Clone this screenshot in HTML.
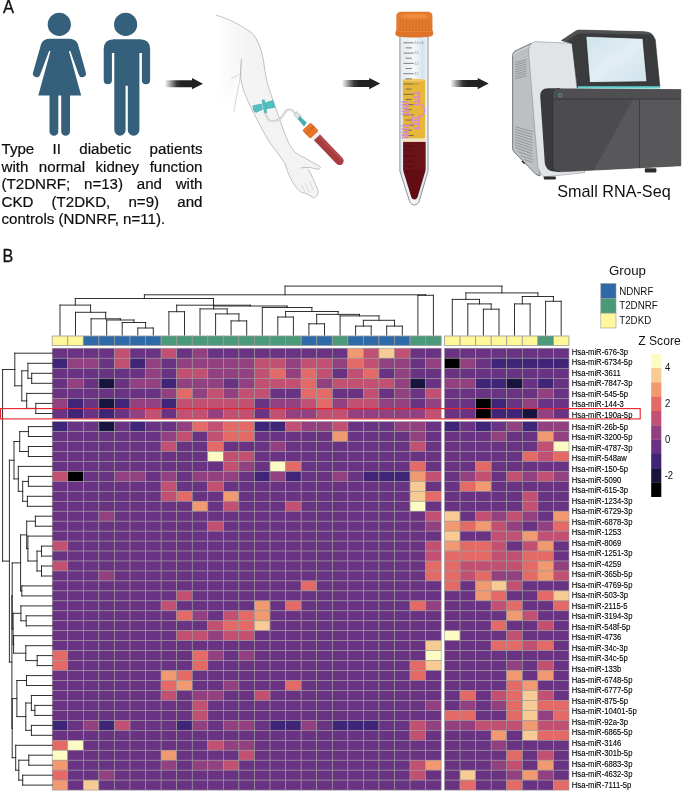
<!DOCTYPE html>
<html lang="en"><head><meta charset="utf-8"><title>Figure</title>
<style>
html,body{margin:0;padding:0;background:#fff;}
body{width:685px;height:802px;overflow:hidden;position:relative;font-family:"Liberation Sans",sans-serif;}
svg{position:absolute;left:0;top:0;display:block;}
.para{position:absolute;left:1.5px;top:140.1px;width:201px;font-size:15.1px;line-height:17.48px;color:#0d0d0d;-webkit-text-stroke:0.2px #0d0d0d;}
.para div{text-align:justify;text-align-last:justify;white-space:nowrap;}
.para div.last{text-align-last:left;}
</style></head><body>
<svg width="685" height="802" viewBox="0 0 685 802">
<defs>
<linearGradient id="ag" x1="0" x2="1" y1="0" y2="0"><stop offset="0" stop-color="#222" stop-opacity="0"/><stop offset="0.32" stop-color="#222" stop-opacity="0.9"/><stop offset="0.45" stop-color="#222" stop-opacity="1"/></linearGradient>
<linearGradient id="armg" gradientUnits="userSpaceOnUse" x1="214" x2="250" y1="0" y2="0"><stop offset="0" stop-color="#ffffff"/><stop offset="1" stop-color="#f3f3f3"/></linearGradient>
<linearGradient id="fadeg" gradientUnits="userSpaceOnUse" x1="0" x2="0" y1="78" y2="110"><stop offset="0" stop-color="#fff" stop-opacity="0"/><stop offset="1" stop-color="#fff" stop-opacity="1"/></linearGradient>
<linearGradient id="scr" x1="0" x2="1" y1="0" y2="1"><stop offset="0" stop-color="#cfe3ec"/><stop offset="0.5" stop-color="#e2eef3"/><stop offset="1" stop-color="#cfe3ec"/></linearGradient>
<linearGradient id="tubeg" x1="0" x2="1" y1="0" y2="0"><stop offset="0" stop-color="#e4e9ed"/><stop offset="0.5" stop-color="#f4f7f9"/><stop offset="0.78" stop-color="#dbe6ee"/><stop offset="1" stop-color="#eef2f5"/></linearGradient>
<path id="arrow" d="M0 -3.5H27.4V-5.7L38.4 0L27.4 5.6V3.5H0Z" fill="url(#ag)"/>
</defs>
<!-- people icons -->
<g fill="#35607c">
<circle cx="59.3" cy="24.4" r="11.6"/>
<path d="M50 38.7H68.5Q75.6 38.7 77.7 43.5L85.8 72.3A3.7 3.7 0 0 1 78.7 74.6L70.3 51H68.9L81.2 95.5H38.3L50.5 51H49.1L40.2 74.6A3.7 3.7 0 0 1 33.1 72.3L41.3 43.5Q43.4 38.7 50 38.7Z"/>
<path d="M49.5 95V131.4a4.4 4.4 0 0 0 8.8 0V95ZM61.2 95V131.4a4.4 4.4 0 0 0 8.8 0V95Z"/>
<circle cx="125.6" cy="24.4" r="11.6"/>
<path d="M113.7 39.3H140.1Q150.1 39.3 150.1 49.3V80.2a4.1 4.1 0 0 1 -8.2 0V53H139.4V130a5.8 5.8 0 0 1 -11.6 0V85.7H125.6V130.1a5.65 5.65 0 0 1 -11.3 0V53H111.9V80.2a4.1 4.1 0 0 1 -8.2 0V49.3Q103.7 39.3 113.7 39.3Z"/>
</g>
<!-- arrows -->
<use href="#arrow" x="164.6" y="83.7"/>
<use href="#arrow" x="341.8" y="83.6"/>
<use href="#arrow" x="450.3" y="83.6"/>
<!-- arm -->
<path d="M215.9 15.2C226 18 238 23 251.4 32.7C258 38.5 262.5 52 264.2 65.4C265.2 73 266.3 79 267.7 84.1C270 92 273 100 275.2 106.6C278 114 282.8 130 288.7 142.8C290.5 146.5 292.5 149.8 295.1 152.2C298 154.5 301 156 303.9 157.4L313.2 162.7C316.5 164.3 320 166 320.5 167.4C320.4 169 318.3 169.4 316.7 169.1C313.8 168.4 311 167.5 308.5 167.4L308.5 169.1L313.2 179L317.9 189.6C318.5 192.5 317.6 195.3 316.1 196.6C315.3 197.6 314.5 197.9 313.8 197.7C312.5 197.2 311 196.3 309.7 195.4C308 194.6 306.5 193.8 305 193.1C303.8 192.8 302.6 192.7 301.5 192.5C299.2 190.8 297 188.5 295.1 186.1C292.8 182.5 290.5 178.5 288.7 174.4C287.4 171 286.2 167.4 285.2 163.9C282.8 160 280 156 277 152.2C274.5 149 272 146 270 142.8C266.5 137.5 263.5 132 260.9 127C256 117.5 250.5 107.5 246.7 98.1C243.8 91.5 241.7 85 240.9 79.4C240.4 72.5 240.8 65 241.6 58.4C240.8 66 239.3 74 236.5 82C234 90 231 100 229 112L213 112L213 15.2Z" fill="url(#armg)" stroke="none"/>
<path d="M212 78H240.9L241.2 82C241.9 86 243.8 91.5 246.7 98.1L253 112V114H212Z" fill="url(#fadeg)"/>
<path d="M241.4 62C241 72 240.5 78 238.5 86.4C237 93 235.6 100 234 111" fill="none" stroke="#dcdcdc" stroke-width="1.3" stroke-linecap="round"/>
<path d="M241 72.6Q237.5 77.3 231.2 78.4" fill="none" stroke="#cfcfcf" stroke-width="0.7" stroke-linecap="round"/>
<path d="M215.9 15.2C226 18 238 23 251.4 32.7C258 38.5 262.5 52 264.2 65.4C265.2 73 266.3 79 267.7 84.1C270 92 273 100 275.2 106.6C278 114 282.8 130 288.7 142.8C290.5 146.5 292.5 149.8 295.1 152.2C298 154.5 301 156 303.9 157.4L313.2 162.7C316.5 164.3 320 166 320.5 167.4C320.4 169 318.3 169.4 316.7 169.1C313.8 168.4 311 167.5 308.5 167.4C305.5 167.2 302.8 167.5 300.4 168M308.5 169.1L313.2 179L317.9 189.6C318.5 192.5 317.6 195.3 316.1 196.6C315.3 197.6 314.5 197.9 313.8 197.7C312.5 197.2 311 196.3 309.7 195.4C308 194.6 306.5 193.8 305 193.1C303.8 192.8 302.6 192.7 301.5 192.5C299.2 190.8 297 188.5 295.1 186.1C292.8 182.5 290.5 178.5 288.7 174.4C287.4 171 286.2 167.4 285.2 163.9C282.8 160 280 156 277 152.2C274.5 149 272 146 270 142.8C266.5 137.5 263.5 132 260.9 127C256 117.5 250.5 107.5 246.7 98.1C243.8 91.5 241.7 85 240.9 79.4C240.4 72.5 240.8 65 241.6 58.4" fill="none" stroke="#a9a9a9" stroke-width="0.7" stroke-linejoin="round"/>
<path d="M309.5 181L313 190M305.5 183L309.5 192.5M301.5 185L305 192" fill="none" stroke="#c9c9c9" stroke-width="0.6"/>
<!-- butterfly needle -->
<path d="M265.4 113.4C266.5 118.5 269.5 121.5 274 121.3C279.5 121 282.5 117 284.7 112.8C286.5 110 289.5 109.2 291.7 109.9L295.8 113.9" fill="none" stroke="#bdbdbd" stroke-width="2"/>
<path d="M265.4 113.4C266.5 118.5 269.5 121.5 274 121.3C279.5 121 282.5 117 284.7 112.8C286.5 110 289.5 109.2 291.7 109.9L295.8 113.9" fill="none" stroke="#f4f4f4" stroke-width="1"/>
<g fill="#52c0c2" stroke="#2f9ea2" stroke-width="0.5" stroke-linejoin="round">
<path d="M252.9 105.8L261.4 104L262.5 109.3L256.1 112.4L253.8 111Z"/>
<path d="M265.4 102.8L273 100.5L274.8 107.5L266 108.7Z"/>
<path d="M262 100.2L264.3 99.7L266.8 112.6L264.5 113.1Z"/>
</g>
<path d="M296.4 111.6L301.8 116.2L299 119.6L293.6 115Z" fill="#d9e4e8" stroke="#9fb0b8" stroke-width="0.5"/>
<path d="M299.6 116.6L306.4 122.4L304 126.2L298.2 119.2Z" fill="#3fb2b4" stroke="#2b8f93" stroke-width="0.4"/>
<!-- blood tube -->
<g transform="translate(310.4 130.6) rotate(46.2)">
<rect x="5" y="-4.2" width="8" height="8.4" fill="#f4f4f4" stroke="#c4c4c4" stroke-width="0.4"/>
<path d="M9.5 -4.2H42a4.2 4.2 0 0 1 0 8.4H9.5Z" fill="#a83d3f"/>
<path d="M9.5 -2.4H42.5" stroke="#b6565a" stroke-width="1.1" fill="none"/>
<rect x="-5.5" y="-5.6" width="11.1" height="11.2" rx="1.3" fill="#e97528" stroke="#cf651f" stroke-width="0.5"/>
<rect x="-2.2" y="-5.6" width="3.4" height="11.2" fill="#dc6c22"/>
</g>
<!-- centrifuge tube -->
<path d="M399.9 36V171L409.3 200.6Q410.8 204.9 414.4 204.9Q418 204.9 419.4 200.6L428 171V36Z" fill="url(#tubeg)" stroke="#808890" stroke-width="0.9" stroke-linejoin="round"/>
<path d="M402.8 80.2C402.8 78.5 425.1 78.5 425.1 80.2V138.7H402.8Z" fill="#e7b73a"/>
<ellipse cx="413.95" cy="80.2" rx="11.15" ry="1.5" fill="#f1cb63"/>
<rect x="402.8" y="138.5" width="22.3" height="3.4" fill="#f3e4c4"/>
<path d="M403.3 141.9H425.4V171L417.8 196.2Q416.8 199.4 414.4 199.4Q412 199.4 411 196.2L403.3 171Z" fill="#620c13"/><path d="M403.3 141.9H425.4V170H403.3Z" fill="#6b1219"/>
<rect x="421.2" y="40" width="3.6" height="38" fill="#d5e3ee" opacity="0.8"/>
<g stroke="#4a4f55" stroke-width="0.7" fill="none">
<path d="M403.5 42.8H413.8M403.5 53.1H413.8M403.5 63.4H413.8M403.5 73.7H413.8M403.5 84H413.8M403.5 94.3H413.8M403.5 104.6H413.8M403.5 114.9H413.8M403.5 125.2H413.8M403.5 135.5H413.8"/>
<path d="M405.5 47.9H411.8M405.5 58.2H411.8M405.5 68.5H411.8M405.5 78.8H411.8M405.5 89.1H411.8M405.5 99.4H411.8M405.5 109.7H411.8M405.5 120H411.8M405.5 130.3H411.8"/>
</g>
<g stroke="#3b0a10" stroke-width="0.7" fill="none" opacity="0.8">
<path d="M403.5 145.8H413.8M403.5 156.1H413.8M403.5 166.4H413.8M405.5 150.9H411.8M405.5 161.2H411.8M405.5 171.5H411.8"/>
</g>
<g font-family="'Liberation Sans', sans-serif" font-size="3.6" fill="#8a9299">
<text x="414.6" y="44">14 mL</text><text x="414.6" y="54.3">13</text><text x="414.6" y="64.6">12</text><text x="414.6" y="74.9">11</text><text x="414.6" y="85.2" fill="#a8842a">10</text>
</g>
<!-- RNA motif -->
<g stroke="#d48ad6" stroke-width="1.6" fill="none" stroke-linecap="butt" stroke-linejoin="round">
<path d="M419.1 91.7V104.3C426.4 104.3 426.4 116.4 419.1 116.4V129.6"/>
<path d="M413.6 93H419.1M413.6 97.4H419.1M413.6 101.5H419.1M413.6 104.7H419.1M413.6 117.7H419.1M413.6 120.5H419.1M413.6 124.1H419.1M413.6 128.2H419.1"/>
<path d="M407.6 101.2V114C414 114 414 125.3 407.6 125.3V138.2"/>
<path d="M401.5 101.9H407.6M401.5 105.1H407.6M401.5 108.3H407.6M401.5 111.2H407.6M401.5 114H407.6M401.5 125.7H407.6M401.5 129H407.6M401.5 132.2H407.6M401.5 135.1H407.6M401.5 137.5H407.6"/>
</g>
<!-- tube cap -->
<path d="M396.6 16Q396.6 11.9 401.5 11.9H427.3Q432.2 11.9 432.2 16V31.5H396.6Z" fill="#e47b2d" stroke="#cf6a22" stroke-width="0.4"/>
<ellipse cx="414.5" cy="16.3" rx="13.3" ry="2.5" fill="#ee8b3c"/>
<path d="M400.2 19.5V30M403.4 20V30M406.6 20.3V30M409.8 20.5V30M413 20.6V30M416.2 20.6V30M419.4 20.5V30M422.6 20.3V30M425.8 20V30M429 19.5V30" stroke="#d06a22" stroke-width="0.8" fill="none"/>
<path d="M395.7 32.2Q395.7 30.4 397.5 30.4H431.1Q432.9 30.4 432.9 32.2V34.6Q432.9 37.3 414.3 37.3Q395.7 37.3 395.7 34.6Z" fill="#e07426" stroke="#cc6620" stroke-width="0.4"/>
<path d="M397 31.3H431.6" stroke="#ef9248" stroke-width="0.6" fill="none"/>
<!-- sequencer -->
<g stroke-linejoin="round">
<path d="M512.6 55.5Q512.6 52.5 515 51L531 43.4L541 45L540 176L536 174.5L514.2 152Q512.6 150.5 512.6 148.5Z" fill="#bcc0c3" stroke="#4e5256" stroke-width="0.7"/>
<path d="M514 56.3Q514 53.8 516 52.6L529 46.4" fill="none" stroke="#e4e7e9" stroke-width="0.6"/>
<path d="M534.9 41.6L572.5 43.3L584.8 172.6L545.5 176.8Q542.5 177 541.2 174.6L537.9 167.7L528.6 52Q528.3 44 534.9 41.6Z" fill="#e1e4e6" stroke="#7e8387" stroke-width="0.5"/>
<g stroke="#6f7478" stroke-width="0.55" fill="none">
<path d="M515.3 62.6L526.5 59.6M515.3 64.9L526.5 61.9M515.3 67.2L526.5 64.2M515.3 69.5L526.5 66.5M515.3 71.8L526.5 68.8M515.3 74.1L526.5 71.1M515.3 76.4L526.5 73.4M515.3 78.7L526.5 75.7"/>
<path d="M515.3 126.8L532.5 131.5M515.3 129.4L532.5 134.3M515.3 132L532.5 137.1M515.3 134.6L532.5 139.9M515.3 137.2L532.5 142.7M515.3 139.8L532.5 145.5M515.3 142.4L532.5 148.3M515.3 145L532.5 151.1M515.3 147.6L532.5 153.9M517.5 151.5L532.5 156.7M520.5 155.8L532.8 159.5M524 159.6L533 162.3"/>
</g>
<path d="M561.5 40.5L575.5 31.2Q577.3 30 579.5 30L644 31.7Q651.5 32 653.6 36.5L655.3 39.7L660 87.5H577.3L572 43.6Z" fill="#3a3b3d" stroke="#2a2b2d" stroke-width="0.5"/>
<path d="M561.5 40.5L575.5 31.2Q577.3 30 579.5 30L644 31.7Q650 32 652 34.5L582 33.2Q579 33.2 577 34.6L566 41.8Z" fill="#505254"/>
<path d="M585.9 36.3L642.9 38.4L646.9 81.7L589.6 82.5Z" fill="url(#scr)" stroke="#1f2022" stroke-width="0.7"/>
<path d="M578 86.2H660V88.4H578Z" fill="#62d3d3"/>
<path d="M540.2 96Q540.2 88.5 548 88.3H560V172L553.5 171.6Q545.8 170.8 544.8 163Z" fill="#3a3a3c"/>
<path d="M552.9 94.5Q552.9 88.8 558.5 88.8L680.8 89.6V165.8L560.5 171.8Q552.9 172 552.9 164.5Z" fill="#4c4c4e" stroke="#2c2c2e" stroke-width="0.5"/>
<path d="M594 170L633.1 99.2H680.6V165.7Z" fill="#58585a"/>
<path d="M553.2 94.5Q553.2 89 558.5 89L680.6 89.8V99H553.2Z" fill="#4f4f51"/>
<path d="M553 99H680.6M639.5 99V167.8" stroke="#2e2e30" stroke-width="0.6" fill="none"/>
<circle cx="560.2" cy="95.2" r="1.7" fill="none" stroke="#4fc4c4" stroke-width="0.6"/>
<rect x="543.8" y="176.4" width="12" height="3.1" rx="0.8" fill="#2b2c2e"/>
<rect x="644.8" y="168.2" width="11.6" height="4.2" rx="0.8" fill="#2b2c2e"/>
<path d="M522 160.4L525 163L524.2 164.2L521.4 161.6Z" fill="#2b2c2e"/>
</g>

<g stroke="#9a9a9a" stroke-width="0.6">
<rect x="52.20" y="348.20" width="15.56" height="10.04" fill="#6a3282"/>
<rect x="67.76" y="348.20" width="15.56" height="10.04" fill="#6a3282"/>
<rect x="83.32" y="348.20" width="15.56" height="10.04" fill="#6a3282"/>
<rect x="98.88" y="348.20" width="15.56" height="10.04" fill="#6a3282"/>
<rect x="114.44" y="348.20" width="15.56" height="10.04" fill="#c15072"/>
<rect x="130.00" y="348.20" width="15.56" height="10.04" fill="#6a3282"/>
<rect x="145.56" y="348.20" width="15.56" height="10.04" fill="#6a3282"/>
<rect x="161.12" y="348.20" width="15.56" height="10.04" fill="#c15072"/>
<rect x="176.68" y="348.20" width="15.56" height="10.04" fill="#6a3282"/>
<rect x="192.24" y="348.20" width="15.56" height="10.04" fill="#92407f"/>
<rect x="207.80" y="348.20" width="15.56" height="10.04" fill="#6a3282"/>
<rect x="223.36" y="348.20" width="15.56" height="10.04" fill="#6a3282"/>
<rect x="238.92" y="348.20" width="15.56" height="10.04" fill="#6a3282"/>
<rect x="254.48" y="348.20" width="15.56" height="10.04" fill="#6a3282"/>
<rect x="270.04" y="348.20" width="15.56" height="10.04" fill="#6a3282"/>
<rect x="285.60" y="348.20" width="15.56" height="10.04" fill="#6a3282"/>
<rect x="301.16" y="348.20" width="15.56" height="10.04" fill="#6a3282"/>
<rect x="316.72" y="348.20" width="15.56" height="10.04" fill="#6a3282"/>
<rect x="332.28" y="348.20" width="15.56" height="10.04" fill="#6a3282"/>
<rect x="347.84" y="348.20" width="15.56" height="10.04" fill="#f19970"/>
<rect x="363.40" y="348.20" width="15.56" height="10.04" fill="#c15072"/>
<rect x="378.96" y="348.20" width="15.56" height="10.04" fill="#f8ca94"/>
<rect x="394.52" y="348.20" width="15.56" height="10.04" fill="#c15072"/>
<rect x="410.08" y="348.20" width="15.56" height="10.04" fill="#6a3282"/>
<rect x="425.64" y="348.20" width="15.56" height="10.04" fill="#6a3282"/>
<rect x="444.50" y="348.20" width="15.56" height="10.04" fill="#6a3282"/>
<rect x="460.06" y="348.20" width="15.56" height="10.04" fill="#6a3282"/>
<rect x="475.62" y="348.20" width="15.56" height="10.04" fill="#6a3282"/>
<rect x="491.18" y="348.20" width="15.56" height="10.04" fill="#6a3282"/>
<rect x="506.74" y="348.20" width="15.56" height="10.04" fill="#6a3282"/>
<rect x="522.30" y="348.20" width="15.56" height="10.04" fill="#6a3282"/>
<rect x="537.86" y="348.20" width="15.56" height="10.04" fill="#6a3282"/>
<rect x="553.42" y="348.20" width="15.56" height="10.04" fill="#6a3282"/>
<rect x="52.20" y="358.24" width="15.56" height="10.04" fill="#402478"/>
<rect x="67.76" y="358.24" width="15.56" height="10.04" fill="#92407f"/>
<rect x="83.32" y="358.24" width="15.56" height="10.04" fill="#92407f"/>
<rect x="98.88" y="358.24" width="15.56" height="10.04" fill="#6a3282"/>
<rect x="114.44" y="358.24" width="15.56" height="10.04" fill="#c15072"/>
<rect x="130.00" y="358.24" width="15.56" height="10.04" fill="#402478"/>
<rect x="145.56" y="358.24" width="15.56" height="10.04" fill="#92407f"/>
<rect x="161.12" y="358.24" width="15.56" height="10.04" fill="#6a3282"/>
<rect x="176.68" y="358.24" width="15.56" height="10.04" fill="#92407f"/>
<rect x="192.24" y="358.24" width="15.56" height="10.04" fill="#92407f"/>
<rect x="207.80" y="358.24" width="15.56" height="10.04" fill="#92407f"/>
<rect x="223.36" y="358.24" width="15.56" height="10.04" fill="#92407f"/>
<rect x="238.92" y="358.24" width="15.56" height="10.04" fill="#92407f"/>
<rect x="254.48" y="358.24" width="15.56" height="10.04" fill="#c15072"/>
<rect x="270.04" y="358.24" width="15.56" height="10.04" fill="#c15072"/>
<rect x="285.60" y="358.24" width="15.56" height="10.04" fill="#92407f"/>
<rect x="301.16" y="358.24" width="15.56" height="10.04" fill="#c15072"/>
<rect x="316.72" y="358.24" width="15.56" height="10.04" fill="#c15072"/>
<rect x="332.28" y="358.24" width="15.56" height="10.04" fill="#92407f"/>
<rect x="347.84" y="358.24" width="15.56" height="10.04" fill="#e46a67"/>
<rect x="363.40" y="358.24" width="15.56" height="10.04" fill="#c15072"/>
<rect x="378.96" y="358.24" width="15.56" height="10.04" fill="#92407f"/>
<rect x="394.52" y="358.24" width="15.56" height="10.04" fill="#92407f"/>
<rect x="410.08" y="358.24" width="15.56" height="10.04" fill="#6a3282"/>
<rect x="425.64" y="358.24" width="15.56" height="10.04" fill="#92407f"/>
<rect x="444.50" y="358.24" width="15.56" height="10.04" fill="#000003"/>
<rect x="460.06" y="358.24" width="15.56" height="10.04" fill="#92407f"/>
<rect x="475.62" y="358.24" width="15.56" height="10.04" fill="#6a3282"/>
<rect x="491.18" y="358.24" width="15.56" height="10.04" fill="#402478"/>
<rect x="506.74" y="358.24" width="15.56" height="10.04" fill="#402478"/>
<rect x="522.30" y="358.24" width="15.56" height="10.04" fill="#402478"/>
<rect x="537.86" y="358.24" width="15.56" height="10.04" fill="#402478"/>
<rect x="553.42" y="358.24" width="15.56" height="10.04" fill="#402478"/>
<rect x="52.20" y="368.28" width="15.56" height="10.04" fill="#6a3282"/>
<rect x="67.76" y="368.28" width="15.56" height="10.04" fill="#6a3282"/>
<rect x="83.32" y="368.28" width="15.56" height="10.04" fill="#6a3282"/>
<rect x="98.88" y="368.28" width="15.56" height="10.04" fill="#6a3282"/>
<rect x="114.44" y="368.28" width="15.56" height="10.04" fill="#6a3282"/>
<rect x="130.00" y="368.28" width="15.56" height="10.04" fill="#6a3282"/>
<rect x="145.56" y="368.28" width="15.56" height="10.04" fill="#92407f"/>
<rect x="161.12" y="368.28" width="15.56" height="10.04" fill="#6a3282"/>
<rect x="176.68" y="368.28" width="15.56" height="10.04" fill="#c15072"/>
<rect x="192.24" y="368.28" width="15.56" height="10.04" fill="#c15072"/>
<rect x="207.80" y="368.28" width="15.56" height="10.04" fill="#92407f"/>
<rect x="223.36" y="368.28" width="15.56" height="10.04" fill="#92407f"/>
<rect x="238.92" y="368.28" width="15.56" height="10.04" fill="#92407f"/>
<rect x="254.48" y="368.28" width="15.56" height="10.04" fill="#c15072"/>
<rect x="270.04" y="368.28" width="15.56" height="10.04" fill="#e46a67"/>
<rect x="285.60" y="368.28" width="15.56" height="10.04" fill="#92407f"/>
<rect x="301.16" y="368.28" width="15.56" height="10.04" fill="#e46a67"/>
<rect x="316.72" y="368.28" width="15.56" height="10.04" fill="#c15072"/>
<rect x="332.28" y="368.28" width="15.56" height="10.04" fill="#6a3282"/>
<rect x="347.84" y="368.28" width="15.56" height="10.04" fill="#c15072"/>
<rect x="363.40" y="368.28" width="15.56" height="10.04" fill="#e46a67"/>
<rect x="378.96" y="368.28" width="15.56" height="10.04" fill="#6a3282"/>
<rect x="394.52" y="368.28" width="15.56" height="10.04" fill="#92407f"/>
<rect x="410.08" y="368.28" width="15.56" height="10.04" fill="#6a3282"/>
<rect x="425.64" y="368.28" width="15.56" height="10.04" fill="#6a3282"/>
<rect x="444.50" y="368.28" width="15.56" height="10.04" fill="#6a3282"/>
<rect x="460.06" y="368.28" width="15.56" height="10.04" fill="#6a3282"/>
<rect x="475.62" y="368.28" width="15.56" height="10.04" fill="#6a3282"/>
<rect x="491.18" y="368.28" width="15.56" height="10.04" fill="#6a3282"/>
<rect x="506.74" y="368.28" width="15.56" height="10.04" fill="#6a3282"/>
<rect x="522.30" y="368.28" width="15.56" height="10.04" fill="#6a3282"/>
<rect x="537.86" y="368.28" width="15.56" height="10.04" fill="#6a3282"/>
<rect x="553.42" y="368.28" width="15.56" height="10.04" fill="#6a3282"/>
<rect x="52.20" y="378.32" width="15.56" height="10.04" fill="#6a3282"/>
<rect x="67.76" y="378.32" width="15.56" height="10.04" fill="#92407f"/>
<rect x="83.32" y="378.32" width="15.56" height="10.04" fill="#6a3282"/>
<rect x="98.88" y="378.32" width="15.56" height="10.04" fill="#18143e"/>
<rect x="114.44" y="378.32" width="15.56" height="10.04" fill="#6a3282"/>
<rect x="130.00" y="378.32" width="15.56" height="10.04" fill="#92407f"/>
<rect x="145.56" y="378.32" width="15.56" height="10.04" fill="#92407f"/>
<rect x="161.12" y="378.32" width="15.56" height="10.04" fill="#402478"/>
<rect x="176.68" y="378.32" width="15.56" height="10.04" fill="#92407f"/>
<rect x="192.24" y="378.32" width="15.56" height="10.04" fill="#92407f"/>
<rect x="207.80" y="378.32" width="15.56" height="10.04" fill="#92407f"/>
<rect x="223.36" y="378.32" width="15.56" height="10.04" fill="#6a3282"/>
<rect x="238.92" y="378.32" width="15.56" height="10.04" fill="#92407f"/>
<rect x="254.48" y="378.32" width="15.56" height="10.04" fill="#c15072"/>
<rect x="270.04" y="378.32" width="15.56" height="10.04" fill="#c15072"/>
<rect x="285.60" y="378.32" width="15.56" height="10.04" fill="#c15072"/>
<rect x="301.16" y="378.32" width="15.56" height="10.04" fill="#e46a67"/>
<rect x="316.72" y="378.32" width="15.56" height="10.04" fill="#92407f"/>
<rect x="332.28" y="378.32" width="15.56" height="10.04" fill="#c15072"/>
<rect x="347.84" y="378.32" width="15.56" height="10.04" fill="#c15072"/>
<rect x="363.40" y="378.32" width="15.56" height="10.04" fill="#c15072"/>
<rect x="378.96" y="378.32" width="15.56" height="10.04" fill="#c15072"/>
<rect x="394.52" y="378.32" width="15.56" height="10.04" fill="#92407f"/>
<rect x="410.08" y="378.32" width="15.56" height="10.04" fill="#18143e"/>
<rect x="425.64" y="378.32" width="15.56" height="10.04" fill="#6a3282"/>
<rect x="444.50" y="378.32" width="15.56" height="10.04" fill="#92407f"/>
<rect x="460.06" y="378.32" width="15.56" height="10.04" fill="#92407f"/>
<rect x="475.62" y="378.32" width="15.56" height="10.04" fill="#402478"/>
<rect x="491.18" y="378.32" width="15.56" height="10.04" fill="#402478"/>
<rect x="506.74" y="378.32" width="15.56" height="10.04" fill="#18143e"/>
<rect x="522.30" y="378.32" width="15.56" height="10.04" fill="#6a3282"/>
<rect x="537.86" y="378.32" width="15.56" height="10.04" fill="#402478"/>
<rect x="553.42" y="378.32" width="15.56" height="10.04" fill="#6a3282"/>
<rect x="52.20" y="388.36" width="15.56" height="10.04" fill="#6a3282"/>
<rect x="67.76" y="388.36" width="15.56" height="10.04" fill="#6a3282"/>
<rect x="83.32" y="388.36" width="15.56" height="10.04" fill="#6a3282"/>
<rect x="98.88" y="388.36" width="15.56" height="10.04" fill="#6a3282"/>
<rect x="114.44" y="388.36" width="15.56" height="10.04" fill="#6a3282"/>
<rect x="130.00" y="388.36" width="15.56" height="10.04" fill="#6a3282"/>
<rect x="145.56" y="388.36" width="15.56" height="10.04" fill="#6a3282"/>
<rect x="161.12" y="388.36" width="15.56" height="10.04" fill="#92407f"/>
<rect x="176.68" y="388.36" width="15.56" height="10.04" fill="#e46a67"/>
<rect x="192.24" y="388.36" width="15.56" height="10.04" fill="#92407f"/>
<rect x="207.80" y="388.36" width="15.56" height="10.04" fill="#c15072"/>
<rect x="223.36" y="388.36" width="15.56" height="10.04" fill="#92407f"/>
<rect x="238.92" y="388.36" width="15.56" height="10.04" fill="#c15072"/>
<rect x="254.48" y="388.36" width="15.56" height="10.04" fill="#c15072"/>
<rect x="270.04" y="388.36" width="15.56" height="10.04" fill="#6a3282"/>
<rect x="285.60" y="388.36" width="15.56" height="10.04" fill="#6a3282"/>
<rect x="301.16" y="388.36" width="15.56" height="10.04" fill="#e46a67"/>
<rect x="316.72" y="388.36" width="15.56" height="10.04" fill="#e46a67"/>
<rect x="332.28" y="388.36" width="15.56" height="10.04" fill="#6a3282"/>
<rect x="347.84" y="388.36" width="15.56" height="10.04" fill="#6a3282"/>
<rect x="363.40" y="388.36" width="15.56" height="10.04" fill="#c15072"/>
<rect x="378.96" y="388.36" width="15.56" height="10.04" fill="#6a3282"/>
<rect x="394.52" y="388.36" width="15.56" height="10.04" fill="#92407f"/>
<rect x="410.08" y="388.36" width="15.56" height="10.04" fill="#6a3282"/>
<rect x="425.64" y="388.36" width="15.56" height="10.04" fill="#c15072"/>
<rect x="444.50" y="388.36" width="15.56" height="10.04" fill="#6a3282"/>
<rect x="460.06" y="388.36" width="15.56" height="10.04" fill="#6a3282"/>
<rect x="475.62" y="388.36" width="15.56" height="10.04" fill="#6a3282"/>
<rect x="491.18" y="388.36" width="15.56" height="10.04" fill="#6a3282"/>
<rect x="506.74" y="388.36" width="15.56" height="10.04" fill="#6a3282"/>
<rect x="522.30" y="388.36" width="15.56" height="10.04" fill="#6a3282"/>
<rect x="537.86" y="388.36" width="15.56" height="10.04" fill="#92407f"/>
<rect x="553.42" y="388.36" width="15.56" height="10.04" fill="#6a3282"/>
<rect x="52.20" y="398.40" width="15.56" height="10.04" fill="#92407f"/>
<rect x="67.76" y="398.40" width="15.56" height="10.04" fill="#402478"/>
<rect x="83.32" y="398.40" width="15.56" height="10.04" fill="#6a3282"/>
<rect x="98.88" y="398.40" width="15.56" height="10.04" fill="#18143e"/>
<rect x="114.44" y="398.40" width="15.56" height="10.04" fill="#402478"/>
<rect x="130.00" y="398.40" width="15.56" height="10.04" fill="#92407f"/>
<rect x="145.56" y="398.40" width="15.56" height="10.04" fill="#92407f"/>
<rect x="161.12" y="398.40" width="15.56" height="10.04" fill="#402478"/>
<rect x="176.68" y="398.40" width="15.56" height="10.04" fill="#c15072"/>
<rect x="192.24" y="398.40" width="15.56" height="10.04" fill="#c15072"/>
<rect x="207.80" y="398.40" width="15.56" height="10.04" fill="#c15072"/>
<rect x="223.36" y="398.40" width="15.56" height="10.04" fill="#c15072"/>
<rect x="238.92" y="398.40" width="15.56" height="10.04" fill="#c15072"/>
<rect x="254.48" y="398.40" width="15.56" height="10.04" fill="#6a3282"/>
<rect x="270.04" y="398.40" width="15.56" height="10.04" fill="#92407f"/>
<rect x="285.60" y="398.40" width="15.56" height="10.04" fill="#92407f"/>
<rect x="301.16" y="398.40" width="15.56" height="10.04" fill="#c15072"/>
<rect x="316.72" y="398.40" width="15.56" height="10.04" fill="#e46a67"/>
<rect x="332.28" y="398.40" width="15.56" height="10.04" fill="#92407f"/>
<rect x="347.84" y="398.40" width="15.56" height="10.04" fill="#c15072"/>
<rect x="363.40" y="398.40" width="15.56" height="10.04" fill="#c15072"/>
<rect x="378.96" y="398.40" width="15.56" height="10.04" fill="#92407f"/>
<rect x="394.52" y="398.40" width="15.56" height="10.04" fill="#92407f"/>
<rect x="410.08" y="398.40" width="15.56" height="10.04" fill="#6a3282"/>
<rect x="425.64" y="398.40" width="15.56" height="10.04" fill="#92407f"/>
<rect x="444.50" y="398.40" width="15.56" height="10.04" fill="#6a3282"/>
<rect x="460.06" y="398.40" width="15.56" height="10.04" fill="#6a3282"/>
<rect x="475.62" y="398.40" width="15.56" height="10.04" fill="#000003"/>
<rect x="491.18" y="398.40" width="15.56" height="10.04" fill="#402478"/>
<rect x="506.74" y="398.40" width="15.56" height="10.04" fill="#6a3282"/>
<rect x="522.30" y="398.40" width="15.56" height="10.04" fill="#92407f"/>
<rect x="537.86" y="398.40" width="15.56" height="10.04" fill="#6a3282"/>
<rect x="553.42" y="398.40" width="15.56" height="10.04" fill="#6a3282"/>
<rect x="52.20" y="408.44" width="15.56" height="10.04" fill="#6a3282"/>
<rect x="67.76" y="408.44" width="15.56" height="10.04" fill="#402478"/>
<rect x="83.32" y="408.44" width="15.56" height="10.04" fill="#6a3282"/>
<rect x="98.88" y="408.44" width="15.56" height="10.04" fill="#402478"/>
<rect x="114.44" y="408.44" width="15.56" height="10.04" fill="#6a3282"/>
<rect x="130.00" y="408.44" width="15.56" height="10.04" fill="#92407f"/>
<rect x="145.56" y="408.44" width="15.56" height="10.04" fill="#c15072"/>
<rect x="161.12" y="408.44" width="15.56" height="10.04" fill="#6a3282"/>
<rect x="176.68" y="408.44" width="15.56" height="10.04" fill="#c15072"/>
<rect x="192.24" y="408.44" width="15.56" height="10.04" fill="#c15072"/>
<rect x="207.80" y="408.44" width="15.56" height="10.04" fill="#92407f"/>
<rect x="223.36" y="408.44" width="15.56" height="10.04" fill="#c15072"/>
<rect x="238.92" y="408.44" width="15.56" height="10.04" fill="#c15072"/>
<rect x="254.48" y="408.44" width="15.56" height="10.04" fill="#6a3282"/>
<rect x="270.04" y="408.44" width="15.56" height="10.04" fill="#c15072"/>
<rect x="285.60" y="408.44" width="15.56" height="10.04" fill="#92407f"/>
<rect x="301.16" y="408.44" width="15.56" height="10.04" fill="#92407f"/>
<rect x="316.72" y="408.44" width="15.56" height="10.04" fill="#c15072"/>
<rect x="332.28" y="408.44" width="15.56" height="10.04" fill="#c15072"/>
<rect x="347.84" y="408.44" width="15.56" height="10.04" fill="#92407f"/>
<rect x="363.40" y="408.44" width="15.56" height="10.04" fill="#92407f"/>
<rect x="378.96" y="408.44" width="15.56" height="10.04" fill="#92407f"/>
<rect x="394.52" y="408.44" width="15.56" height="10.04" fill="#92407f"/>
<rect x="410.08" y="408.44" width="15.56" height="10.04" fill="#92407f"/>
<rect x="425.64" y="408.44" width="15.56" height="10.04" fill="#c15072"/>
<rect x="444.50" y="408.44" width="15.56" height="10.04" fill="#6a3282"/>
<rect x="460.06" y="408.44" width="15.56" height="10.04" fill="#6a3282"/>
<rect x="475.62" y="408.44" width="15.56" height="10.04" fill="#000003"/>
<rect x="491.18" y="408.44" width="15.56" height="10.04" fill="#402478"/>
<rect x="506.74" y="408.44" width="15.56" height="10.04" fill="#402478"/>
<rect x="522.30" y="408.44" width="15.56" height="10.04" fill="#18143e"/>
<rect x="537.86" y="408.44" width="15.56" height="10.04" fill="#92407f"/>
<rect x="553.42" y="408.44" width="15.56" height="10.04" fill="#6a3282"/>
<rect x="52.20" y="421.60" width="15.56" height="9.96" fill="#402478"/>
<rect x="67.76" y="421.60" width="15.56" height="9.96" fill="#6a3282"/>
<rect x="83.32" y="421.60" width="15.56" height="9.96" fill="#6a3282"/>
<rect x="98.88" y="421.60" width="15.56" height="9.96" fill="#18143e"/>
<rect x="114.44" y="421.60" width="15.56" height="9.96" fill="#6a3282"/>
<rect x="130.00" y="421.60" width="15.56" height="9.96" fill="#402478"/>
<rect x="145.56" y="421.60" width="15.56" height="9.96" fill="#6a3282"/>
<rect x="161.12" y="421.60" width="15.56" height="9.96" fill="#6a3282"/>
<rect x="176.68" y="421.60" width="15.56" height="9.96" fill="#92407f"/>
<rect x="192.24" y="421.60" width="15.56" height="9.96" fill="#e46a67"/>
<rect x="207.80" y="421.60" width="15.56" height="9.96" fill="#c15072"/>
<rect x="223.36" y="421.60" width="15.56" height="9.96" fill="#e46a67"/>
<rect x="238.92" y="421.60" width="15.56" height="9.96" fill="#e46a67"/>
<rect x="254.48" y="421.60" width="15.56" height="9.96" fill="#402478"/>
<rect x="270.04" y="421.60" width="15.56" height="9.96" fill="#402478"/>
<rect x="285.60" y="421.60" width="15.56" height="9.96" fill="#c15072"/>
<rect x="301.16" y="421.60" width="15.56" height="9.96" fill="#92407f"/>
<rect x="316.72" y="421.60" width="15.56" height="9.96" fill="#92407f"/>
<rect x="332.28" y="421.60" width="15.56" height="9.96" fill="#c15072"/>
<rect x="347.84" y="421.60" width="15.56" height="9.96" fill="#6a3282"/>
<rect x="363.40" y="421.60" width="15.56" height="9.96" fill="#6a3282"/>
<rect x="378.96" y="421.60" width="15.56" height="9.96" fill="#6a3282"/>
<rect x="394.52" y="421.60" width="15.56" height="9.96" fill="#92407f"/>
<rect x="410.08" y="421.60" width="15.56" height="9.96" fill="#92407f"/>
<rect x="425.64" y="421.60" width="15.56" height="9.96" fill="#6a3282"/>
<rect x="444.50" y="421.60" width="15.56" height="9.96" fill="#402478"/>
<rect x="460.06" y="421.60" width="15.56" height="9.96" fill="#6a3282"/>
<rect x="475.62" y="421.60" width="15.56" height="9.96" fill="#402478"/>
<rect x="491.18" y="421.60" width="15.56" height="9.96" fill="#6a3282"/>
<rect x="506.74" y="421.60" width="15.56" height="9.96" fill="#92407f"/>
<rect x="522.30" y="421.60" width="15.56" height="9.96" fill="#402478"/>
<rect x="537.86" y="421.60" width="15.56" height="9.96" fill="#92407f"/>
<rect x="553.42" y="421.60" width="15.56" height="9.96" fill="#92407f"/>
<rect x="52.20" y="431.56" width="15.56" height="9.96" fill="#6a3282"/>
<rect x="67.76" y="431.56" width="15.56" height="9.96" fill="#6a3282"/>
<rect x="83.32" y="431.56" width="15.56" height="9.96" fill="#6a3282"/>
<rect x="98.88" y="431.56" width="15.56" height="9.96" fill="#6a3282"/>
<rect x="114.44" y="431.56" width="15.56" height="9.96" fill="#6a3282"/>
<rect x="130.00" y="431.56" width="15.56" height="9.96" fill="#6a3282"/>
<rect x="145.56" y="431.56" width="15.56" height="9.96" fill="#6a3282"/>
<rect x="161.12" y="431.56" width="15.56" height="9.96" fill="#92407f"/>
<rect x="176.68" y="431.56" width="15.56" height="9.96" fill="#c15072"/>
<rect x="192.24" y="431.56" width="15.56" height="9.96" fill="#6a3282"/>
<rect x="207.80" y="431.56" width="15.56" height="9.96" fill="#c15072"/>
<rect x="223.36" y="431.56" width="15.56" height="9.96" fill="#e46a67"/>
<rect x="238.92" y="431.56" width="15.56" height="9.96" fill="#e46a67"/>
<rect x="254.48" y="431.56" width="15.56" height="9.96" fill="#6a3282"/>
<rect x="270.04" y="431.56" width="15.56" height="9.96" fill="#6a3282"/>
<rect x="285.60" y="431.56" width="15.56" height="9.96" fill="#6a3282"/>
<rect x="301.16" y="431.56" width="15.56" height="9.96" fill="#6a3282"/>
<rect x="316.72" y="431.56" width="15.56" height="9.96" fill="#6a3282"/>
<rect x="332.28" y="431.56" width="15.56" height="9.96" fill="#f19970"/>
<rect x="347.84" y="431.56" width="15.56" height="9.96" fill="#6a3282"/>
<rect x="363.40" y="431.56" width="15.56" height="9.96" fill="#6a3282"/>
<rect x="378.96" y="431.56" width="15.56" height="9.96" fill="#6a3282"/>
<rect x="394.52" y="431.56" width="15.56" height="9.96" fill="#6a3282"/>
<rect x="410.08" y="431.56" width="15.56" height="9.96" fill="#92407f"/>
<rect x="425.64" y="431.56" width="15.56" height="9.96" fill="#6a3282"/>
<rect x="444.50" y="431.56" width="15.56" height="9.96" fill="#6a3282"/>
<rect x="460.06" y="431.56" width="15.56" height="9.96" fill="#6a3282"/>
<rect x="475.62" y="431.56" width="15.56" height="9.96" fill="#6a3282"/>
<rect x="491.18" y="431.56" width="15.56" height="9.96" fill="#92407f"/>
<rect x="506.74" y="431.56" width="15.56" height="9.96" fill="#6a3282"/>
<rect x="522.30" y="431.56" width="15.56" height="9.96" fill="#6a3282"/>
<rect x="537.86" y="431.56" width="15.56" height="9.96" fill="#f19970"/>
<rect x="553.42" y="431.56" width="15.56" height="9.96" fill="#92407f"/>
<rect x="52.20" y="441.52" width="15.56" height="9.96" fill="#6a3282"/>
<rect x="67.76" y="441.52" width="15.56" height="9.96" fill="#6a3282"/>
<rect x="83.32" y="441.52" width="15.56" height="9.96" fill="#6a3282"/>
<rect x="98.88" y="441.52" width="15.56" height="9.96" fill="#6a3282"/>
<rect x="114.44" y="441.52" width="15.56" height="9.96" fill="#6a3282"/>
<rect x="130.00" y="441.52" width="15.56" height="9.96" fill="#6a3282"/>
<rect x="145.56" y="441.52" width="15.56" height="9.96" fill="#6a3282"/>
<rect x="161.12" y="441.52" width="15.56" height="9.96" fill="#c15072"/>
<rect x="176.68" y="441.52" width="15.56" height="9.96" fill="#6a3282"/>
<rect x="192.24" y="441.52" width="15.56" height="9.96" fill="#6a3282"/>
<rect x="207.80" y="441.52" width="15.56" height="9.96" fill="#e46a67"/>
<rect x="223.36" y="441.52" width="15.56" height="9.96" fill="#6a3282"/>
<rect x="238.92" y="441.52" width="15.56" height="9.96" fill="#6a3282"/>
<rect x="254.48" y="441.52" width="15.56" height="9.96" fill="#6a3282"/>
<rect x="270.04" y="441.52" width="15.56" height="9.96" fill="#92407f"/>
<rect x="285.60" y="441.52" width="15.56" height="9.96" fill="#6a3282"/>
<rect x="301.16" y="441.52" width="15.56" height="9.96" fill="#6a3282"/>
<rect x="316.72" y="441.52" width="15.56" height="9.96" fill="#6a3282"/>
<rect x="332.28" y="441.52" width="15.56" height="9.96" fill="#6a3282"/>
<rect x="347.84" y="441.52" width="15.56" height="9.96" fill="#6a3282"/>
<rect x="363.40" y="441.52" width="15.56" height="9.96" fill="#6a3282"/>
<rect x="378.96" y="441.52" width="15.56" height="9.96" fill="#6a3282"/>
<rect x="394.52" y="441.52" width="15.56" height="9.96" fill="#6a3282"/>
<rect x="410.08" y="441.52" width="15.56" height="9.96" fill="#c15072"/>
<rect x="425.64" y="441.52" width="15.56" height="9.96" fill="#6a3282"/>
<rect x="444.50" y="441.52" width="15.56" height="9.96" fill="#6a3282"/>
<rect x="460.06" y="441.52" width="15.56" height="9.96" fill="#6a3282"/>
<rect x="475.62" y="441.52" width="15.56" height="9.96" fill="#6a3282"/>
<rect x="491.18" y="441.52" width="15.56" height="9.96" fill="#6a3282"/>
<rect x="506.74" y="441.52" width="15.56" height="9.96" fill="#6a3282"/>
<rect x="522.30" y="441.52" width="15.56" height="9.96" fill="#6a3282"/>
<rect x="537.86" y="441.52" width="15.56" height="9.96" fill="#c15072"/>
<rect x="553.42" y="441.52" width="15.56" height="9.96" fill="#fdfbc4"/>
<rect x="52.20" y="451.48" width="15.56" height="9.96" fill="#6a3282"/>
<rect x="67.76" y="451.48" width="15.56" height="9.96" fill="#6a3282"/>
<rect x="83.32" y="451.48" width="15.56" height="9.96" fill="#6a3282"/>
<rect x="98.88" y="451.48" width="15.56" height="9.96" fill="#6a3282"/>
<rect x="114.44" y="451.48" width="15.56" height="9.96" fill="#6a3282"/>
<rect x="130.00" y="451.48" width="15.56" height="9.96" fill="#6a3282"/>
<rect x="145.56" y="451.48" width="15.56" height="9.96" fill="#6a3282"/>
<rect x="161.12" y="451.48" width="15.56" height="9.96" fill="#6a3282"/>
<rect x="176.68" y="451.48" width="15.56" height="9.96" fill="#6a3282"/>
<rect x="192.24" y="451.48" width="15.56" height="9.96" fill="#6a3282"/>
<rect x="207.80" y="451.48" width="15.56" height="9.96" fill="#fdfbc4"/>
<rect x="223.36" y="451.48" width="15.56" height="9.96" fill="#c15072"/>
<rect x="238.92" y="451.48" width="15.56" height="9.96" fill="#c15072"/>
<rect x="254.48" y="451.48" width="15.56" height="9.96" fill="#6a3282"/>
<rect x="270.04" y="451.48" width="15.56" height="9.96" fill="#6a3282"/>
<rect x="285.60" y="451.48" width="15.56" height="9.96" fill="#6a3282"/>
<rect x="301.16" y="451.48" width="15.56" height="9.96" fill="#6a3282"/>
<rect x="316.72" y="451.48" width="15.56" height="9.96" fill="#6a3282"/>
<rect x="332.28" y="451.48" width="15.56" height="9.96" fill="#6a3282"/>
<rect x="347.84" y="451.48" width="15.56" height="9.96" fill="#6a3282"/>
<rect x="363.40" y="451.48" width="15.56" height="9.96" fill="#6a3282"/>
<rect x="378.96" y="451.48" width="15.56" height="9.96" fill="#6a3282"/>
<rect x="394.52" y="451.48" width="15.56" height="9.96" fill="#6a3282"/>
<rect x="410.08" y="451.48" width="15.56" height="9.96" fill="#6a3282"/>
<rect x="425.64" y="451.48" width="15.56" height="9.96" fill="#6a3282"/>
<rect x="444.50" y="451.48" width="15.56" height="9.96" fill="#6a3282"/>
<rect x="460.06" y="451.48" width="15.56" height="9.96" fill="#6a3282"/>
<rect x="475.62" y="451.48" width="15.56" height="9.96" fill="#6a3282"/>
<rect x="491.18" y="451.48" width="15.56" height="9.96" fill="#6a3282"/>
<rect x="506.74" y="451.48" width="15.56" height="9.96" fill="#6a3282"/>
<rect x="522.30" y="451.48" width="15.56" height="9.96" fill="#e46a67"/>
<rect x="537.86" y="451.48" width="15.56" height="9.96" fill="#c15072"/>
<rect x="553.42" y="451.48" width="15.56" height="9.96" fill="#e46a67"/>
<rect x="52.20" y="461.44" width="15.56" height="9.96" fill="#6a3282"/>
<rect x="67.76" y="461.44" width="15.56" height="9.96" fill="#6a3282"/>
<rect x="83.32" y="461.44" width="15.56" height="9.96" fill="#6a3282"/>
<rect x="98.88" y="461.44" width="15.56" height="9.96" fill="#6a3282"/>
<rect x="114.44" y="461.44" width="15.56" height="9.96" fill="#6a3282"/>
<rect x="130.00" y="461.44" width="15.56" height="9.96" fill="#6a3282"/>
<rect x="145.56" y="461.44" width="15.56" height="9.96" fill="#6a3282"/>
<rect x="161.12" y="461.44" width="15.56" height="9.96" fill="#6a3282"/>
<rect x="176.68" y="461.44" width="15.56" height="9.96" fill="#6a3282"/>
<rect x="192.24" y="461.44" width="15.56" height="9.96" fill="#6a3282"/>
<rect x="207.80" y="461.44" width="15.56" height="9.96" fill="#6a3282"/>
<rect x="223.36" y="461.44" width="15.56" height="9.96" fill="#c15072"/>
<rect x="238.92" y="461.44" width="15.56" height="9.96" fill="#92407f"/>
<rect x="254.48" y="461.44" width="15.56" height="9.96" fill="#6a3282"/>
<rect x="270.04" y="461.44" width="15.56" height="9.96" fill="#fdfbc4"/>
<rect x="285.60" y="461.44" width="15.56" height="9.96" fill="#e46a67"/>
<rect x="301.16" y="461.44" width="15.56" height="9.96" fill="#6a3282"/>
<rect x="316.72" y="461.44" width="15.56" height="9.96" fill="#6a3282"/>
<rect x="332.28" y="461.44" width="15.56" height="9.96" fill="#6a3282"/>
<rect x="347.84" y="461.44" width="15.56" height="9.96" fill="#6a3282"/>
<rect x="363.40" y="461.44" width="15.56" height="9.96" fill="#6a3282"/>
<rect x="378.96" y="461.44" width="15.56" height="9.96" fill="#6a3282"/>
<rect x="394.52" y="461.44" width="15.56" height="9.96" fill="#6a3282"/>
<rect x="410.08" y="461.44" width="15.56" height="9.96" fill="#e46a67"/>
<rect x="425.64" y="461.44" width="15.56" height="9.96" fill="#6a3282"/>
<rect x="444.50" y="461.44" width="15.56" height="9.96" fill="#6a3282"/>
<rect x="460.06" y="461.44" width="15.56" height="9.96" fill="#6a3282"/>
<rect x="475.62" y="461.44" width="15.56" height="9.96" fill="#e46a67"/>
<rect x="491.18" y="461.44" width="15.56" height="9.96" fill="#6a3282"/>
<rect x="506.74" y="461.44" width="15.56" height="9.96" fill="#6a3282"/>
<rect x="522.30" y="461.44" width="15.56" height="9.96" fill="#6a3282"/>
<rect x="537.86" y="461.44" width="15.56" height="9.96" fill="#6a3282"/>
<rect x="553.42" y="461.44" width="15.56" height="9.96" fill="#6a3282"/>
<rect x="52.20" y="471.40" width="15.56" height="9.96" fill="#c15072"/>
<rect x="67.76" y="471.40" width="15.56" height="9.96" fill="#000003"/>
<rect x="83.32" y="471.40" width="15.56" height="9.96" fill="#6a3282"/>
<rect x="98.88" y="471.40" width="15.56" height="9.96" fill="#6a3282"/>
<rect x="114.44" y="471.40" width="15.56" height="9.96" fill="#92407f"/>
<rect x="130.00" y="471.40" width="15.56" height="9.96" fill="#92407f"/>
<rect x="145.56" y="471.40" width="15.56" height="9.96" fill="#6a3282"/>
<rect x="161.12" y="471.40" width="15.56" height="9.96" fill="#92407f"/>
<rect x="176.68" y="471.40" width="15.56" height="9.96" fill="#6a3282"/>
<rect x="192.24" y="471.40" width="15.56" height="9.96" fill="#92407f"/>
<rect x="207.80" y="471.40" width="15.56" height="9.96" fill="#92407f"/>
<rect x="223.36" y="471.40" width="15.56" height="9.96" fill="#92407f"/>
<rect x="238.92" y="471.40" width="15.56" height="9.96" fill="#6a3282"/>
<rect x="254.48" y="471.40" width="15.56" height="9.96" fill="#402478"/>
<rect x="270.04" y="471.40" width="15.56" height="9.96" fill="#92407f"/>
<rect x="285.60" y="471.40" width="15.56" height="9.96" fill="#402478"/>
<rect x="301.16" y="471.40" width="15.56" height="9.96" fill="#6a3282"/>
<rect x="316.72" y="471.40" width="15.56" height="9.96" fill="#6a3282"/>
<rect x="332.28" y="471.40" width="15.56" height="9.96" fill="#92407f"/>
<rect x="347.84" y="471.40" width="15.56" height="9.96" fill="#6a3282"/>
<rect x="363.40" y="471.40" width="15.56" height="9.96" fill="#402478"/>
<rect x="378.96" y="471.40" width="15.56" height="9.96" fill="#402478"/>
<rect x="394.52" y="471.40" width="15.56" height="9.96" fill="#402478"/>
<rect x="410.08" y="471.40" width="15.56" height="9.96" fill="#f19970"/>
<rect x="425.64" y="471.40" width="15.56" height="9.96" fill="#c15072"/>
<rect x="444.50" y="471.40" width="15.56" height="9.96" fill="#6a3282"/>
<rect x="460.06" y="471.40" width="15.56" height="9.96" fill="#92407f"/>
<rect x="475.62" y="471.40" width="15.56" height="9.96" fill="#c15072"/>
<rect x="491.18" y="471.40" width="15.56" height="9.96" fill="#6a3282"/>
<rect x="506.74" y="471.40" width="15.56" height="9.96" fill="#c15072"/>
<rect x="522.30" y="471.40" width="15.56" height="9.96" fill="#92407f"/>
<rect x="537.86" y="471.40" width="15.56" height="9.96" fill="#c15072"/>
<rect x="553.42" y="471.40" width="15.56" height="9.96" fill="#92407f"/>
<rect x="52.20" y="481.36" width="15.56" height="9.96" fill="#6a3282"/>
<rect x="67.76" y="481.36" width="15.56" height="9.96" fill="#6a3282"/>
<rect x="83.32" y="481.36" width="15.56" height="9.96" fill="#6a3282"/>
<rect x="98.88" y="481.36" width="15.56" height="9.96" fill="#6a3282"/>
<rect x="114.44" y="481.36" width="15.56" height="9.96" fill="#6a3282"/>
<rect x="130.00" y="481.36" width="15.56" height="9.96" fill="#6a3282"/>
<rect x="145.56" y="481.36" width="15.56" height="9.96" fill="#6a3282"/>
<rect x="161.12" y="481.36" width="15.56" height="9.96" fill="#c15072"/>
<rect x="176.68" y="481.36" width="15.56" height="9.96" fill="#6a3282"/>
<rect x="192.24" y="481.36" width="15.56" height="9.96" fill="#6a3282"/>
<rect x="207.80" y="481.36" width="15.56" height="9.96" fill="#c15072"/>
<rect x="223.36" y="481.36" width="15.56" height="9.96" fill="#6a3282"/>
<rect x="238.92" y="481.36" width="15.56" height="9.96" fill="#6a3282"/>
<rect x="254.48" y="481.36" width="15.56" height="9.96" fill="#6a3282"/>
<rect x="270.04" y="481.36" width="15.56" height="9.96" fill="#6a3282"/>
<rect x="285.60" y="481.36" width="15.56" height="9.96" fill="#6a3282"/>
<rect x="301.16" y="481.36" width="15.56" height="9.96" fill="#6a3282"/>
<rect x="316.72" y="481.36" width="15.56" height="9.96" fill="#6a3282"/>
<rect x="332.28" y="481.36" width="15.56" height="9.96" fill="#6a3282"/>
<rect x="347.84" y="481.36" width="15.56" height="9.96" fill="#6a3282"/>
<rect x="363.40" y="481.36" width="15.56" height="9.96" fill="#6a3282"/>
<rect x="378.96" y="481.36" width="15.56" height="9.96" fill="#6a3282"/>
<rect x="394.52" y="481.36" width="15.56" height="9.96" fill="#6a3282"/>
<rect x="410.08" y="481.36" width="15.56" height="9.96" fill="#f8ca94"/>
<rect x="425.64" y="481.36" width="15.56" height="9.96" fill="#6a3282"/>
<rect x="444.50" y="481.36" width="15.56" height="9.96" fill="#6a3282"/>
<rect x="460.06" y="481.36" width="15.56" height="9.96" fill="#e46a67"/>
<rect x="475.62" y="481.36" width="15.56" height="9.96" fill="#f19970"/>
<rect x="491.18" y="481.36" width="15.56" height="9.96" fill="#6a3282"/>
<rect x="506.74" y="481.36" width="15.56" height="9.96" fill="#6a3282"/>
<rect x="522.30" y="481.36" width="15.56" height="9.96" fill="#6a3282"/>
<rect x="537.86" y="481.36" width="15.56" height="9.96" fill="#6a3282"/>
<rect x="553.42" y="481.36" width="15.56" height="9.96" fill="#6a3282"/>
<rect x="52.20" y="491.32" width="15.56" height="9.96" fill="#6a3282"/>
<rect x="67.76" y="491.32" width="15.56" height="9.96" fill="#6a3282"/>
<rect x="83.32" y="491.32" width="15.56" height="9.96" fill="#6a3282"/>
<rect x="98.88" y="491.32" width="15.56" height="9.96" fill="#6a3282"/>
<rect x="114.44" y="491.32" width="15.56" height="9.96" fill="#6a3282"/>
<rect x="130.00" y="491.32" width="15.56" height="9.96" fill="#6a3282"/>
<rect x="145.56" y="491.32" width="15.56" height="9.96" fill="#6a3282"/>
<rect x="161.12" y="491.32" width="15.56" height="9.96" fill="#c15072"/>
<rect x="176.68" y="491.32" width="15.56" height="9.96" fill="#e46a67"/>
<rect x="192.24" y="491.32" width="15.56" height="9.96" fill="#6a3282"/>
<rect x="207.80" y="491.32" width="15.56" height="9.96" fill="#6a3282"/>
<rect x="223.36" y="491.32" width="15.56" height="9.96" fill="#f19970"/>
<rect x="238.92" y="491.32" width="15.56" height="9.96" fill="#6a3282"/>
<rect x="254.48" y="491.32" width="15.56" height="9.96" fill="#6a3282"/>
<rect x="270.04" y="491.32" width="15.56" height="9.96" fill="#6a3282"/>
<rect x="285.60" y="491.32" width="15.56" height="9.96" fill="#6a3282"/>
<rect x="301.16" y="491.32" width="15.56" height="9.96" fill="#6a3282"/>
<rect x="316.72" y="491.32" width="15.56" height="9.96" fill="#6a3282"/>
<rect x="332.28" y="491.32" width="15.56" height="9.96" fill="#6a3282"/>
<rect x="347.84" y="491.32" width="15.56" height="9.96" fill="#6a3282"/>
<rect x="363.40" y="491.32" width="15.56" height="9.96" fill="#6a3282"/>
<rect x="378.96" y="491.32" width="15.56" height="9.96" fill="#6a3282"/>
<rect x="394.52" y="491.32" width="15.56" height="9.96" fill="#6a3282"/>
<rect x="410.08" y="491.32" width="15.56" height="9.96" fill="#f8ca94"/>
<rect x="425.64" y="491.32" width="15.56" height="9.96" fill="#e46a67"/>
<rect x="444.50" y="491.32" width="15.56" height="9.96" fill="#6a3282"/>
<rect x="460.06" y="491.32" width="15.56" height="9.96" fill="#6a3282"/>
<rect x="475.62" y="491.32" width="15.56" height="9.96" fill="#6a3282"/>
<rect x="491.18" y="491.32" width="15.56" height="9.96" fill="#6a3282"/>
<rect x="506.74" y="491.32" width="15.56" height="9.96" fill="#6a3282"/>
<rect x="522.30" y="491.32" width="15.56" height="9.96" fill="#c15072"/>
<rect x="537.86" y="491.32" width="15.56" height="9.96" fill="#6a3282"/>
<rect x="553.42" y="491.32" width="15.56" height="9.96" fill="#6a3282"/>
<rect x="52.20" y="501.28" width="15.56" height="9.96" fill="#6a3282"/>
<rect x="67.76" y="501.28" width="15.56" height="9.96" fill="#6a3282"/>
<rect x="83.32" y="501.28" width="15.56" height="9.96" fill="#6a3282"/>
<rect x="98.88" y="501.28" width="15.56" height="9.96" fill="#6a3282"/>
<rect x="114.44" y="501.28" width="15.56" height="9.96" fill="#6a3282"/>
<rect x="130.00" y="501.28" width="15.56" height="9.96" fill="#6a3282"/>
<rect x="145.56" y="501.28" width="15.56" height="9.96" fill="#6a3282"/>
<rect x="161.12" y="501.28" width="15.56" height="9.96" fill="#6a3282"/>
<rect x="176.68" y="501.28" width="15.56" height="9.96" fill="#6a3282"/>
<rect x="192.24" y="501.28" width="15.56" height="9.96" fill="#f19970"/>
<rect x="207.80" y="501.28" width="15.56" height="9.96" fill="#6a3282"/>
<rect x="223.36" y="501.28" width="15.56" height="9.96" fill="#c15072"/>
<rect x="238.92" y="501.28" width="15.56" height="9.96" fill="#6a3282"/>
<rect x="254.48" y="501.28" width="15.56" height="9.96" fill="#6a3282"/>
<rect x="270.04" y="501.28" width="15.56" height="9.96" fill="#6a3282"/>
<rect x="285.60" y="501.28" width="15.56" height="9.96" fill="#c15072"/>
<rect x="301.16" y="501.28" width="15.56" height="9.96" fill="#6a3282"/>
<rect x="316.72" y="501.28" width="15.56" height="9.96" fill="#6a3282"/>
<rect x="332.28" y="501.28" width="15.56" height="9.96" fill="#6a3282"/>
<rect x="347.84" y="501.28" width="15.56" height="9.96" fill="#6a3282"/>
<rect x="363.40" y="501.28" width="15.56" height="9.96" fill="#6a3282"/>
<rect x="378.96" y="501.28" width="15.56" height="9.96" fill="#6a3282"/>
<rect x="394.52" y="501.28" width="15.56" height="9.96" fill="#6a3282"/>
<rect x="410.08" y="501.28" width="15.56" height="9.96" fill="#fdfbc4"/>
<rect x="425.64" y="501.28" width="15.56" height="9.96" fill="#6a3282"/>
<rect x="444.50" y="501.28" width="15.56" height="9.96" fill="#6a3282"/>
<rect x="460.06" y="501.28" width="15.56" height="9.96" fill="#6a3282"/>
<rect x="475.62" y="501.28" width="15.56" height="9.96" fill="#6a3282"/>
<rect x="491.18" y="501.28" width="15.56" height="9.96" fill="#6a3282"/>
<rect x="506.74" y="501.28" width="15.56" height="9.96" fill="#6a3282"/>
<rect x="522.30" y="501.28" width="15.56" height="9.96" fill="#c15072"/>
<rect x="537.86" y="501.28" width="15.56" height="9.96" fill="#6a3282"/>
<rect x="553.42" y="501.28" width="15.56" height="9.96" fill="#6a3282"/>
<rect x="52.20" y="511.24" width="15.56" height="9.96" fill="#6a3282"/>
<rect x="67.76" y="511.24" width="15.56" height="9.96" fill="#6a3282"/>
<rect x="83.32" y="511.24" width="15.56" height="9.96" fill="#6a3282"/>
<rect x="98.88" y="511.24" width="15.56" height="9.96" fill="#92407f"/>
<rect x="114.44" y="511.24" width="15.56" height="9.96" fill="#6a3282"/>
<rect x="130.00" y="511.24" width="15.56" height="9.96" fill="#6a3282"/>
<rect x="145.56" y="511.24" width="15.56" height="9.96" fill="#6a3282"/>
<rect x="161.12" y="511.24" width="15.56" height="9.96" fill="#6a3282"/>
<rect x="176.68" y="511.24" width="15.56" height="9.96" fill="#6a3282"/>
<rect x="192.24" y="511.24" width="15.56" height="9.96" fill="#6a3282"/>
<rect x="207.80" y="511.24" width="15.56" height="9.96" fill="#6a3282"/>
<rect x="223.36" y="511.24" width="15.56" height="9.96" fill="#6a3282"/>
<rect x="238.92" y="511.24" width="15.56" height="9.96" fill="#6a3282"/>
<rect x="254.48" y="511.24" width="15.56" height="9.96" fill="#6a3282"/>
<rect x="270.04" y="511.24" width="15.56" height="9.96" fill="#6a3282"/>
<rect x="285.60" y="511.24" width="15.56" height="9.96" fill="#6a3282"/>
<rect x="301.16" y="511.24" width="15.56" height="9.96" fill="#6a3282"/>
<rect x="316.72" y="511.24" width="15.56" height="9.96" fill="#6a3282"/>
<rect x="332.28" y="511.24" width="15.56" height="9.96" fill="#6a3282"/>
<rect x="347.84" y="511.24" width="15.56" height="9.96" fill="#6a3282"/>
<rect x="363.40" y="511.24" width="15.56" height="9.96" fill="#6a3282"/>
<rect x="378.96" y="511.24" width="15.56" height="9.96" fill="#6a3282"/>
<rect x="394.52" y="511.24" width="15.56" height="9.96" fill="#6a3282"/>
<rect x="410.08" y="511.24" width="15.56" height="9.96" fill="#6a3282"/>
<rect x="425.64" y="511.24" width="15.56" height="9.96" fill="#c15072"/>
<rect x="444.50" y="511.24" width="15.56" height="9.96" fill="#f8ca94"/>
<rect x="460.06" y="511.24" width="15.56" height="9.96" fill="#6a3282"/>
<rect x="475.62" y="511.24" width="15.56" height="9.96" fill="#c15072"/>
<rect x="491.18" y="511.24" width="15.56" height="9.96" fill="#92407f"/>
<rect x="506.74" y="511.24" width="15.56" height="9.96" fill="#c15072"/>
<rect x="522.30" y="511.24" width="15.56" height="9.96" fill="#92407f"/>
<rect x="537.86" y="511.24" width="15.56" height="9.96" fill="#6a3282"/>
<rect x="553.42" y="511.24" width="15.56" height="9.96" fill="#f19970"/>
<rect x="52.20" y="521.19" width="15.56" height="9.96" fill="#6a3282"/>
<rect x="67.76" y="521.19" width="15.56" height="9.96" fill="#6a3282"/>
<rect x="83.32" y="521.19" width="15.56" height="9.96" fill="#6a3282"/>
<rect x="98.88" y="521.19" width="15.56" height="9.96" fill="#6a3282"/>
<rect x="114.44" y="521.19" width="15.56" height="9.96" fill="#6a3282"/>
<rect x="130.00" y="521.19" width="15.56" height="9.96" fill="#6a3282"/>
<rect x="145.56" y="521.19" width="15.56" height="9.96" fill="#6a3282"/>
<rect x="161.12" y="521.19" width="15.56" height="9.96" fill="#6a3282"/>
<rect x="176.68" y="521.19" width="15.56" height="9.96" fill="#6a3282"/>
<rect x="192.24" y="521.19" width="15.56" height="9.96" fill="#6a3282"/>
<rect x="207.80" y="521.19" width="15.56" height="9.96" fill="#c15072"/>
<rect x="223.36" y="521.19" width="15.56" height="9.96" fill="#6a3282"/>
<rect x="238.92" y="521.19" width="15.56" height="9.96" fill="#6a3282"/>
<rect x="254.48" y="521.19" width="15.56" height="9.96" fill="#6a3282"/>
<rect x="270.04" y="521.19" width="15.56" height="9.96" fill="#6a3282"/>
<rect x="285.60" y="521.19" width="15.56" height="9.96" fill="#6a3282"/>
<rect x="301.16" y="521.19" width="15.56" height="9.96" fill="#6a3282"/>
<rect x="316.72" y="521.19" width="15.56" height="9.96" fill="#6a3282"/>
<rect x="332.28" y="521.19" width="15.56" height="9.96" fill="#6a3282"/>
<rect x="347.84" y="521.19" width="15.56" height="9.96" fill="#6a3282"/>
<rect x="363.40" y="521.19" width="15.56" height="9.96" fill="#6a3282"/>
<rect x="378.96" y="521.19" width="15.56" height="9.96" fill="#6a3282"/>
<rect x="394.52" y="521.19" width="15.56" height="9.96" fill="#6a3282"/>
<rect x="410.08" y="521.19" width="15.56" height="9.96" fill="#6a3282"/>
<rect x="425.64" y="521.19" width="15.56" height="9.96" fill="#92407f"/>
<rect x="444.50" y="521.19" width="15.56" height="9.96" fill="#f19970"/>
<rect x="460.06" y="521.19" width="15.56" height="9.96" fill="#e46a67"/>
<rect x="475.62" y="521.19" width="15.56" height="9.96" fill="#f19970"/>
<rect x="491.18" y="521.19" width="15.56" height="9.96" fill="#c15072"/>
<rect x="506.74" y="521.19" width="15.56" height="9.96" fill="#92407f"/>
<rect x="522.30" y="521.19" width="15.56" height="9.96" fill="#6a3282"/>
<rect x="537.86" y="521.19" width="15.56" height="9.96" fill="#92407f"/>
<rect x="553.42" y="521.19" width="15.56" height="9.96" fill="#e46a67"/>
<rect x="52.20" y="531.15" width="15.56" height="9.96" fill="#6a3282"/>
<rect x="67.76" y="531.15" width="15.56" height="9.96" fill="#6a3282"/>
<rect x="83.32" y="531.15" width="15.56" height="9.96" fill="#6a3282"/>
<rect x="98.88" y="531.15" width="15.56" height="9.96" fill="#6a3282"/>
<rect x="114.44" y="531.15" width="15.56" height="9.96" fill="#6a3282"/>
<rect x="130.00" y="531.15" width="15.56" height="9.96" fill="#6a3282"/>
<rect x="145.56" y="531.15" width="15.56" height="9.96" fill="#6a3282"/>
<rect x="161.12" y="531.15" width="15.56" height="9.96" fill="#6a3282"/>
<rect x="176.68" y="531.15" width="15.56" height="9.96" fill="#6a3282"/>
<rect x="192.24" y="531.15" width="15.56" height="9.96" fill="#6a3282"/>
<rect x="207.80" y="531.15" width="15.56" height="9.96" fill="#6a3282"/>
<rect x="223.36" y="531.15" width="15.56" height="9.96" fill="#6a3282"/>
<rect x="238.92" y="531.15" width="15.56" height="9.96" fill="#6a3282"/>
<rect x="254.48" y="531.15" width="15.56" height="9.96" fill="#6a3282"/>
<rect x="270.04" y="531.15" width="15.56" height="9.96" fill="#6a3282"/>
<rect x="285.60" y="531.15" width="15.56" height="9.96" fill="#6a3282"/>
<rect x="301.16" y="531.15" width="15.56" height="9.96" fill="#6a3282"/>
<rect x="316.72" y="531.15" width="15.56" height="9.96" fill="#6a3282"/>
<rect x="332.28" y="531.15" width="15.56" height="9.96" fill="#6a3282"/>
<rect x="347.84" y="531.15" width="15.56" height="9.96" fill="#6a3282"/>
<rect x="363.40" y="531.15" width="15.56" height="9.96" fill="#6a3282"/>
<rect x="378.96" y="531.15" width="15.56" height="9.96" fill="#6a3282"/>
<rect x="394.52" y="531.15" width="15.56" height="9.96" fill="#6a3282"/>
<rect x="410.08" y="531.15" width="15.56" height="9.96" fill="#6a3282"/>
<rect x="425.64" y="531.15" width="15.56" height="9.96" fill="#6a3282"/>
<rect x="444.50" y="531.15" width="15.56" height="9.96" fill="#f8ca94"/>
<rect x="460.06" y="531.15" width="15.56" height="9.96" fill="#6a3282"/>
<rect x="475.62" y="531.15" width="15.56" height="9.96" fill="#6a3282"/>
<rect x="491.18" y="531.15" width="15.56" height="9.96" fill="#c15072"/>
<rect x="506.74" y="531.15" width="15.56" height="9.96" fill="#c15072"/>
<rect x="522.30" y="531.15" width="15.56" height="9.96" fill="#f19970"/>
<rect x="537.86" y="531.15" width="15.56" height="9.96" fill="#c15072"/>
<rect x="553.42" y="531.15" width="15.56" height="9.96" fill="#c15072"/>
<rect x="52.20" y="541.11" width="15.56" height="9.96" fill="#c15072"/>
<rect x="67.76" y="541.11" width="15.56" height="9.96" fill="#6a3282"/>
<rect x="83.32" y="541.11" width="15.56" height="9.96" fill="#6a3282"/>
<rect x="98.88" y="541.11" width="15.56" height="9.96" fill="#6a3282"/>
<rect x="114.44" y="541.11" width="15.56" height="9.96" fill="#6a3282"/>
<rect x="130.00" y="541.11" width="15.56" height="9.96" fill="#6a3282"/>
<rect x="145.56" y="541.11" width="15.56" height="9.96" fill="#6a3282"/>
<rect x="161.12" y="541.11" width="15.56" height="9.96" fill="#6a3282"/>
<rect x="176.68" y="541.11" width="15.56" height="9.96" fill="#6a3282"/>
<rect x="192.24" y="541.11" width="15.56" height="9.96" fill="#6a3282"/>
<rect x="207.80" y="541.11" width="15.56" height="9.96" fill="#6a3282"/>
<rect x="223.36" y="541.11" width="15.56" height="9.96" fill="#6a3282"/>
<rect x="238.92" y="541.11" width="15.56" height="9.96" fill="#6a3282"/>
<rect x="254.48" y="541.11" width="15.56" height="9.96" fill="#6a3282"/>
<rect x="270.04" y="541.11" width="15.56" height="9.96" fill="#6a3282"/>
<rect x="285.60" y="541.11" width="15.56" height="9.96" fill="#6a3282"/>
<rect x="301.16" y="541.11" width="15.56" height="9.96" fill="#6a3282"/>
<rect x="316.72" y="541.11" width="15.56" height="9.96" fill="#6a3282"/>
<rect x="332.28" y="541.11" width="15.56" height="9.96" fill="#6a3282"/>
<rect x="347.84" y="541.11" width="15.56" height="9.96" fill="#6a3282"/>
<rect x="363.40" y="541.11" width="15.56" height="9.96" fill="#6a3282"/>
<rect x="378.96" y="541.11" width="15.56" height="9.96" fill="#6a3282"/>
<rect x="394.52" y="541.11" width="15.56" height="9.96" fill="#6a3282"/>
<rect x="410.08" y="541.11" width="15.56" height="9.96" fill="#6a3282"/>
<rect x="425.64" y="541.11" width="15.56" height="9.96" fill="#c15072"/>
<rect x="444.50" y="541.11" width="15.56" height="9.96" fill="#f19970"/>
<rect x="460.06" y="541.11" width="15.56" height="9.96" fill="#e46a67"/>
<rect x="475.62" y="541.11" width="15.56" height="9.96" fill="#e46a67"/>
<rect x="491.18" y="541.11" width="15.56" height="9.96" fill="#c15072"/>
<rect x="506.74" y="541.11" width="15.56" height="9.96" fill="#6a3282"/>
<rect x="522.30" y="541.11" width="15.56" height="9.96" fill="#c15072"/>
<rect x="537.86" y="541.11" width="15.56" height="9.96" fill="#f19970"/>
<rect x="553.42" y="541.11" width="15.56" height="9.96" fill="#6a3282"/>
<rect x="52.20" y="551.07" width="15.56" height="9.96" fill="#6a3282"/>
<rect x="67.76" y="551.07" width="15.56" height="9.96" fill="#6a3282"/>
<rect x="83.32" y="551.07" width="15.56" height="9.96" fill="#6a3282"/>
<rect x="98.88" y="551.07" width="15.56" height="9.96" fill="#6a3282"/>
<rect x="114.44" y="551.07" width="15.56" height="9.96" fill="#6a3282"/>
<rect x="130.00" y="551.07" width="15.56" height="9.96" fill="#6a3282"/>
<rect x="145.56" y="551.07" width="15.56" height="9.96" fill="#6a3282"/>
<rect x="161.12" y="551.07" width="15.56" height="9.96" fill="#6a3282"/>
<rect x="176.68" y="551.07" width="15.56" height="9.96" fill="#6a3282"/>
<rect x="192.24" y="551.07" width="15.56" height="9.96" fill="#6a3282"/>
<rect x="207.80" y="551.07" width="15.56" height="9.96" fill="#6a3282"/>
<rect x="223.36" y="551.07" width="15.56" height="9.96" fill="#6a3282"/>
<rect x="238.92" y="551.07" width="15.56" height="9.96" fill="#6a3282"/>
<rect x="254.48" y="551.07" width="15.56" height="9.96" fill="#6a3282"/>
<rect x="270.04" y="551.07" width="15.56" height="9.96" fill="#6a3282"/>
<rect x="285.60" y="551.07" width="15.56" height="9.96" fill="#6a3282"/>
<rect x="301.16" y="551.07" width="15.56" height="9.96" fill="#6a3282"/>
<rect x="316.72" y="551.07" width="15.56" height="9.96" fill="#6a3282"/>
<rect x="332.28" y="551.07" width="15.56" height="9.96" fill="#6a3282"/>
<rect x="347.84" y="551.07" width="15.56" height="9.96" fill="#6a3282"/>
<rect x="363.40" y="551.07" width="15.56" height="9.96" fill="#6a3282"/>
<rect x="378.96" y="551.07" width="15.56" height="9.96" fill="#6a3282"/>
<rect x="394.52" y="551.07" width="15.56" height="9.96" fill="#6a3282"/>
<rect x="410.08" y="551.07" width="15.56" height="9.96" fill="#6a3282"/>
<rect x="425.64" y="551.07" width="15.56" height="9.96" fill="#c15072"/>
<rect x="444.50" y="551.07" width="15.56" height="9.96" fill="#e46a67"/>
<rect x="460.06" y="551.07" width="15.56" height="9.96" fill="#e46a67"/>
<rect x="475.62" y="551.07" width="15.56" height="9.96" fill="#e46a67"/>
<rect x="491.18" y="551.07" width="15.56" height="9.96" fill="#c15072"/>
<rect x="506.74" y="551.07" width="15.56" height="9.96" fill="#c15072"/>
<rect x="522.30" y="551.07" width="15.56" height="9.96" fill="#e46a67"/>
<rect x="537.86" y="551.07" width="15.56" height="9.96" fill="#e46a67"/>
<rect x="553.42" y="551.07" width="15.56" height="9.96" fill="#6a3282"/>
<rect x="52.20" y="561.03" width="15.56" height="9.96" fill="#c15072"/>
<rect x="67.76" y="561.03" width="15.56" height="9.96" fill="#6a3282"/>
<rect x="83.32" y="561.03" width="15.56" height="9.96" fill="#6a3282"/>
<rect x="98.88" y="561.03" width="15.56" height="9.96" fill="#6a3282"/>
<rect x="114.44" y="561.03" width="15.56" height="9.96" fill="#6a3282"/>
<rect x="130.00" y="561.03" width="15.56" height="9.96" fill="#6a3282"/>
<rect x="145.56" y="561.03" width="15.56" height="9.96" fill="#6a3282"/>
<rect x="161.12" y="561.03" width="15.56" height="9.96" fill="#6a3282"/>
<rect x="176.68" y="561.03" width="15.56" height="9.96" fill="#6a3282"/>
<rect x="192.24" y="561.03" width="15.56" height="9.96" fill="#6a3282"/>
<rect x="207.80" y="561.03" width="15.56" height="9.96" fill="#6a3282"/>
<rect x="223.36" y="561.03" width="15.56" height="9.96" fill="#6a3282"/>
<rect x="238.92" y="561.03" width="15.56" height="9.96" fill="#6a3282"/>
<rect x="254.48" y="561.03" width="15.56" height="9.96" fill="#6a3282"/>
<rect x="270.04" y="561.03" width="15.56" height="9.96" fill="#6a3282"/>
<rect x="285.60" y="561.03" width="15.56" height="9.96" fill="#6a3282"/>
<rect x="301.16" y="561.03" width="15.56" height="9.96" fill="#6a3282"/>
<rect x="316.72" y="561.03" width="15.56" height="9.96" fill="#6a3282"/>
<rect x="332.28" y="561.03" width="15.56" height="9.96" fill="#6a3282"/>
<rect x="347.84" y="561.03" width="15.56" height="9.96" fill="#6a3282"/>
<rect x="363.40" y="561.03" width="15.56" height="9.96" fill="#6a3282"/>
<rect x="378.96" y="561.03" width="15.56" height="9.96" fill="#6a3282"/>
<rect x="394.52" y="561.03" width="15.56" height="9.96" fill="#6a3282"/>
<rect x="410.08" y="561.03" width="15.56" height="9.96" fill="#6a3282"/>
<rect x="425.64" y="561.03" width="15.56" height="9.96" fill="#e46a67"/>
<rect x="444.50" y="561.03" width="15.56" height="9.96" fill="#e46a67"/>
<rect x="460.06" y="561.03" width="15.56" height="9.96" fill="#c15072"/>
<rect x="475.62" y="561.03" width="15.56" height="9.96" fill="#c15072"/>
<rect x="491.18" y="561.03" width="15.56" height="9.96" fill="#c15072"/>
<rect x="506.74" y="561.03" width="15.56" height="9.96" fill="#c15072"/>
<rect x="522.30" y="561.03" width="15.56" height="9.96" fill="#e46a67"/>
<rect x="537.86" y="561.03" width="15.56" height="9.96" fill="#f19970"/>
<rect x="553.42" y="561.03" width="15.56" height="9.96" fill="#92407f"/>
<rect x="52.20" y="570.99" width="15.56" height="9.96" fill="#6a3282"/>
<rect x="67.76" y="570.99" width="15.56" height="9.96" fill="#6a3282"/>
<rect x="83.32" y="570.99" width="15.56" height="9.96" fill="#6a3282"/>
<rect x="98.88" y="570.99" width="15.56" height="9.96" fill="#92407f"/>
<rect x="114.44" y="570.99" width="15.56" height="9.96" fill="#6a3282"/>
<rect x="130.00" y="570.99" width="15.56" height="9.96" fill="#6a3282"/>
<rect x="145.56" y="570.99" width="15.56" height="9.96" fill="#6a3282"/>
<rect x="161.12" y="570.99" width="15.56" height="9.96" fill="#6a3282"/>
<rect x="176.68" y="570.99" width="15.56" height="9.96" fill="#6a3282"/>
<rect x="192.24" y="570.99" width="15.56" height="9.96" fill="#6a3282"/>
<rect x="207.80" y="570.99" width="15.56" height="9.96" fill="#6a3282"/>
<rect x="223.36" y="570.99" width="15.56" height="9.96" fill="#6a3282"/>
<rect x="238.92" y="570.99" width="15.56" height="9.96" fill="#6a3282"/>
<rect x="254.48" y="570.99" width="15.56" height="9.96" fill="#6a3282"/>
<rect x="270.04" y="570.99" width="15.56" height="9.96" fill="#6a3282"/>
<rect x="285.60" y="570.99" width="15.56" height="9.96" fill="#6a3282"/>
<rect x="301.16" y="570.99" width="15.56" height="9.96" fill="#6a3282"/>
<rect x="316.72" y="570.99" width="15.56" height="9.96" fill="#6a3282"/>
<rect x="332.28" y="570.99" width="15.56" height="9.96" fill="#6a3282"/>
<rect x="347.84" y="570.99" width="15.56" height="9.96" fill="#6a3282"/>
<rect x="363.40" y="570.99" width="15.56" height="9.96" fill="#6a3282"/>
<rect x="378.96" y="570.99" width="15.56" height="9.96" fill="#6a3282"/>
<rect x="394.52" y="570.99" width="15.56" height="9.96" fill="#6a3282"/>
<rect x="410.08" y="570.99" width="15.56" height="9.96" fill="#6a3282"/>
<rect x="425.64" y="570.99" width="15.56" height="9.96" fill="#e46a67"/>
<rect x="444.50" y="570.99" width="15.56" height="9.96" fill="#e46a67"/>
<rect x="460.06" y="570.99" width="15.56" height="9.96" fill="#c15072"/>
<rect x="475.62" y="570.99" width="15.56" height="9.96" fill="#e46a67"/>
<rect x="491.18" y="570.99" width="15.56" height="9.96" fill="#92407f"/>
<rect x="506.74" y="570.99" width="15.56" height="9.96" fill="#92407f"/>
<rect x="522.30" y="570.99" width="15.56" height="9.96" fill="#e46a67"/>
<rect x="537.86" y="570.99" width="15.56" height="9.96" fill="#f19970"/>
<rect x="553.42" y="570.99" width="15.56" height="9.96" fill="#c15072"/>
<rect x="52.20" y="580.95" width="15.56" height="9.96" fill="#6a3282"/>
<rect x="67.76" y="580.95" width="15.56" height="9.96" fill="#6a3282"/>
<rect x="83.32" y="580.95" width="15.56" height="9.96" fill="#6a3282"/>
<rect x="98.88" y="580.95" width="15.56" height="9.96" fill="#6a3282"/>
<rect x="114.44" y="580.95" width="15.56" height="9.96" fill="#6a3282"/>
<rect x="130.00" y="580.95" width="15.56" height="9.96" fill="#6a3282"/>
<rect x="145.56" y="580.95" width="15.56" height="9.96" fill="#6a3282"/>
<rect x="161.12" y="580.95" width="15.56" height="9.96" fill="#6a3282"/>
<rect x="176.68" y="580.95" width="15.56" height="9.96" fill="#6a3282"/>
<rect x="192.24" y="580.95" width="15.56" height="9.96" fill="#6a3282"/>
<rect x="207.80" y="580.95" width="15.56" height="9.96" fill="#6a3282"/>
<rect x="223.36" y="580.95" width="15.56" height="9.96" fill="#6a3282"/>
<rect x="238.92" y="580.95" width="15.56" height="9.96" fill="#6a3282"/>
<rect x="254.48" y="580.95" width="15.56" height="9.96" fill="#6a3282"/>
<rect x="270.04" y="580.95" width="15.56" height="9.96" fill="#6a3282"/>
<rect x="285.60" y="580.95" width="15.56" height="9.96" fill="#6a3282"/>
<rect x="301.16" y="580.95" width="15.56" height="9.96" fill="#e46a67"/>
<rect x="316.72" y="580.95" width="15.56" height="9.96" fill="#6a3282"/>
<rect x="332.28" y="580.95" width="15.56" height="9.96" fill="#6a3282"/>
<rect x="347.84" y="580.95" width="15.56" height="9.96" fill="#6a3282"/>
<rect x="363.40" y="580.95" width="15.56" height="9.96" fill="#6a3282"/>
<rect x="378.96" y="580.95" width="15.56" height="9.96" fill="#6a3282"/>
<rect x="394.52" y="580.95" width="15.56" height="9.96" fill="#6a3282"/>
<rect x="410.08" y="580.95" width="15.56" height="9.96" fill="#6a3282"/>
<rect x="425.64" y="580.95" width="15.56" height="9.96" fill="#6a3282"/>
<rect x="444.50" y="580.95" width="15.56" height="9.96" fill="#e46a67"/>
<rect x="460.06" y="580.95" width="15.56" height="9.96" fill="#6a3282"/>
<rect x="475.62" y="580.95" width="15.56" height="9.96" fill="#f19970"/>
<rect x="491.18" y="580.95" width="15.56" height="9.96" fill="#f8ca94"/>
<rect x="506.74" y="580.95" width="15.56" height="9.96" fill="#c15072"/>
<rect x="522.30" y="580.95" width="15.56" height="9.96" fill="#6a3282"/>
<rect x="537.86" y="580.95" width="15.56" height="9.96" fill="#6a3282"/>
<rect x="553.42" y="580.95" width="15.56" height="9.96" fill="#6a3282"/>
<rect x="52.20" y="590.91" width="15.56" height="9.96" fill="#6a3282"/>
<rect x="67.76" y="590.91" width="15.56" height="9.96" fill="#6a3282"/>
<rect x="83.32" y="590.91" width="15.56" height="9.96" fill="#6a3282"/>
<rect x="98.88" y="590.91" width="15.56" height="9.96" fill="#6a3282"/>
<rect x="114.44" y="590.91" width="15.56" height="9.96" fill="#6a3282"/>
<rect x="130.00" y="590.91" width="15.56" height="9.96" fill="#6a3282"/>
<rect x="145.56" y="590.91" width="15.56" height="9.96" fill="#6a3282"/>
<rect x="161.12" y="590.91" width="15.56" height="9.96" fill="#6a3282"/>
<rect x="176.68" y="590.91" width="15.56" height="9.96" fill="#c15072"/>
<rect x="192.24" y="590.91" width="15.56" height="9.96" fill="#6a3282"/>
<rect x="207.80" y="590.91" width="15.56" height="9.96" fill="#6a3282"/>
<rect x="223.36" y="590.91" width="15.56" height="9.96" fill="#6a3282"/>
<rect x="238.92" y="590.91" width="15.56" height="9.96" fill="#6a3282"/>
<rect x="254.48" y="590.91" width="15.56" height="9.96" fill="#6a3282"/>
<rect x="270.04" y="590.91" width="15.56" height="9.96" fill="#6a3282"/>
<rect x="285.60" y="590.91" width="15.56" height="9.96" fill="#6a3282"/>
<rect x="301.16" y="590.91" width="15.56" height="9.96" fill="#6a3282"/>
<rect x="316.72" y="590.91" width="15.56" height="9.96" fill="#6a3282"/>
<rect x="332.28" y="590.91" width="15.56" height="9.96" fill="#6a3282"/>
<rect x="347.84" y="590.91" width="15.56" height="9.96" fill="#6a3282"/>
<rect x="363.40" y="590.91" width="15.56" height="9.96" fill="#6a3282"/>
<rect x="378.96" y="590.91" width="15.56" height="9.96" fill="#6a3282"/>
<rect x="394.52" y="590.91" width="15.56" height="9.96" fill="#6a3282"/>
<rect x="410.08" y="590.91" width="15.56" height="9.96" fill="#6a3282"/>
<rect x="425.64" y="590.91" width="15.56" height="9.96" fill="#6a3282"/>
<rect x="444.50" y="590.91" width="15.56" height="9.96" fill="#6a3282"/>
<rect x="460.06" y="590.91" width="15.56" height="9.96" fill="#6a3282"/>
<rect x="475.62" y="590.91" width="15.56" height="9.96" fill="#f19970"/>
<rect x="491.18" y="590.91" width="15.56" height="9.96" fill="#e46a67"/>
<rect x="506.74" y="590.91" width="15.56" height="9.96" fill="#6a3282"/>
<rect x="522.30" y="590.91" width="15.56" height="9.96" fill="#6a3282"/>
<rect x="537.86" y="590.91" width="15.56" height="9.96" fill="#e46a67"/>
<rect x="553.42" y="590.91" width="15.56" height="9.96" fill="#f8ca94"/>
<rect x="52.20" y="600.87" width="15.56" height="9.96" fill="#6a3282"/>
<rect x="67.76" y="600.87" width="15.56" height="9.96" fill="#6a3282"/>
<rect x="83.32" y="600.87" width="15.56" height="9.96" fill="#6a3282"/>
<rect x="98.88" y="600.87" width="15.56" height="9.96" fill="#6a3282"/>
<rect x="114.44" y="600.87" width="15.56" height="9.96" fill="#6a3282"/>
<rect x="130.00" y="600.87" width="15.56" height="9.96" fill="#6a3282"/>
<rect x="145.56" y="600.87" width="15.56" height="9.96" fill="#6a3282"/>
<rect x="161.12" y="600.87" width="15.56" height="9.96" fill="#c15072"/>
<rect x="176.68" y="600.87" width="15.56" height="9.96" fill="#6a3282"/>
<rect x="192.24" y="600.87" width="15.56" height="9.96" fill="#6a3282"/>
<rect x="207.80" y="600.87" width="15.56" height="9.96" fill="#6a3282"/>
<rect x="223.36" y="600.87" width="15.56" height="9.96" fill="#6a3282"/>
<rect x="238.92" y="600.87" width="15.56" height="9.96" fill="#6a3282"/>
<rect x="254.48" y="600.87" width="15.56" height="9.96" fill="#f19970"/>
<rect x="270.04" y="600.87" width="15.56" height="9.96" fill="#6a3282"/>
<rect x="285.60" y="600.87" width="15.56" height="9.96" fill="#e46a67"/>
<rect x="301.16" y="600.87" width="15.56" height="9.96" fill="#6a3282"/>
<rect x="316.72" y="600.87" width="15.56" height="9.96" fill="#6a3282"/>
<rect x="332.28" y="600.87" width="15.56" height="9.96" fill="#6a3282"/>
<rect x="347.84" y="600.87" width="15.56" height="9.96" fill="#6a3282"/>
<rect x="363.40" y="600.87" width="15.56" height="9.96" fill="#6a3282"/>
<rect x="378.96" y="600.87" width="15.56" height="9.96" fill="#6a3282"/>
<rect x="394.52" y="600.87" width="15.56" height="9.96" fill="#6a3282"/>
<rect x="410.08" y="600.87" width="15.56" height="9.96" fill="#e46a67"/>
<rect x="425.64" y="600.87" width="15.56" height="9.96" fill="#92407f"/>
<rect x="444.50" y="600.87" width="15.56" height="9.96" fill="#6a3282"/>
<rect x="460.06" y="600.87" width="15.56" height="9.96" fill="#6a3282"/>
<rect x="475.62" y="600.87" width="15.56" height="9.96" fill="#6a3282"/>
<rect x="491.18" y="600.87" width="15.56" height="9.96" fill="#c15072"/>
<rect x="506.74" y="600.87" width="15.56" height="9.96" fill="#e46a67"/>
<rect x="522.30" y="600.87" width="15.56" height="9.96" fill="#6a3282"/>
<rect x="537.86" y="600.87" width="15.56" height="9.96" fill="#6a3282"/>
<rect x="553.42" y="600.87" width="15.56" height="9.96" fill="#e46a67"/>
<rect x="52.20" y="610.83" width="15.56" height="9.96" fill="#6a3282"/>
<rect x="67.76" y="610.83" width="15.56" height="9.96" fill="#6a3282"/>
<rect x="83.32" y="610.83" width="15.56" height="9.96" fill="#6a3282"/>
<rect x="98.88" y="610.83" width="15.56" height="9.96" fill="#6a3282"/>
<rect x="114.44" y="610.83" width="15.56" height="9.96" fill="#6a3282"/>
<rect x="130.00" y="610.83" width="15.56" height="9.96" fill="#6a3282"/>
<rect x="145.56" y="610.83" width="15.56" height="9.96" fill="#6a3282"/>
<rect x="161.12" y="610.83" width="15.56" height="9.96" fill="#6a3282"/>
<rect x="176.68" y="610.83" width="15.56" height="9.96" fill="#e46a67"/>
<rect x="192.24" y="610.83" width="15.56" height="9.96" fill="#92407f"/>
<rect x="207.80" y="610.83" width="15.56" height="9.96" fill="#6a3282"/>
<rect x="223.36" y="610.83" width="15.56" height="9.96" fill="#c15072"/>
<rect x="238.92" y="610.83" width="15.56" height="9.96" fill="#e46a67"/>
<rect x="254.48" y="610.83" width="15.56" height="9.96" fill="#f19970"/>
<rect x="270.04" y="610.83" width="15.56" height="9.96" fill="#6a3282"/>
<rect x="285.60" y="610.83" width="15.56" height="9.96" fill="#6a3282"/>
<rect x="301.16" y="610.83" width="15.56" height="9.96" fill="#6a3282"/>
<rect x="316.72" y="610.83" width="15.56" height="9.96" fill="#6a3282"/>
<rect x="332.28" y="610.83" width="15.56" height="9.96" fill="#6a3282"/>
<rect x="347.84" y="610.83" width="15.56" height="9.96" fill="#6a3282"/>
<rect x="363.40" y="610.83" width="15.56" height="9.96" fill="#6a3282"/>
<rect x="378.96" y="610.83" width="15.56" height="9.96" fill="#6a3282"/>
<rect x="394.52" y="610.83" width="15.56" height="9.96" fill="#6a3282"/>
<rect x="410.08" y="610.83" width="15.56" height="9.96" fill="#6a3282"/>
<rect x="425.64" y="610.83" width="15.56" height="9.96" fill="#6a3282"/>
<rect x="444.50" y="610.83" width="15.56" height="9.96" fill="#6a3282"/>
<rect x="460.06" y="610.83" width="15.56" height="9.96" fill="#6a3282"/>
<rect x="475.62" y="610.83" width="15.56" height="9.96" fill="#6a3282"/>
<rect x="491.18" y="610.83" width="15.56" height="9.96" fill="#6a3282"/>
<rect x="506.74" y="610.83" width="15.56" height="9.96" fill="#f19970"/>
<rect x="522.30" y="610.83" width="15.56" height="9.96" fill="#c15072"/>
<rect x="537.86" y="610.83" width="15.56" height="9.96" fill="#6a3282"/>
<rect x="553.42" y="610.83" width="15.56" height="9.96" fill="#6a3282"/>
<rect x="52.20" y="620.79" width="15.56" height="9.96" fill="#6a3282"/>
<rect x="67.76" y="620.79" width="15.56" height="9.96" fill="#6a3282"/>
<rect x="83.32" y="620.79" width="15.56" height="9.96" fill="#6a3282"/>
<rect x="98.88" y="620.79" width="15.56" height="9.96" fill="#6a3282"/>
<rect x="114.44" y="620.79" width="15.56" height="9.96" fill="#6a3282"/>
<rect x="130.00" y="620.79" width="15.56" height="9.96" fill="#6a3282"/>
<rect x="145.56" y="620.79" width="15.56" height="9.96" fill="#6a3282"/>
<rect x="161.12" y="620.79" width="15.56" height="9.96" fill="#6a3282"/>
<rect x="176.68" y="620.79" width="15.56" height="9.96" fill="#6a3282"/>
<rect x="192.24" y="620.79" width="15.56" height="9.96" fill="#6a3282"/>
<rect x="207.80" y="620.79" width="15.56" height="9.96" fill="#c15072"/>
<rect x="223.36" y="620.79" width="15.56" height="9.96" fill="#e46a67"/>
<rect x="238.92" y="620.79" width="15.56" height="9.96" fill="#e46a67"/>
<rect x="254.48" y="620.79" width="15.56" height="9.96" fill="#f8ca94"/>
<rect x="270.04" y="620.79" width="15.56" height="9.96" fill="#6a3282"/>
<rect x="285.60" y="620.79" width="15.56" height="9.96" fill="#6a3282"/>
<rect x="301.16" y="620.79" width="15.56" height="9.96" fill="#6a3282"/>
<rect x="316.72" y="620.79" width="15.56" height="9.96" fill="#6a3282"/>
<rect x="332.28" y="620.79" width="15.56" height="9.96" fill="#6a3282"/>
<rect x="347.84" y="620.79" width="15.56" height="9.96" fill="#6a3282"/>
<rect x="363.40" y="620.79" width="15.56" height="9.96" fill="#6a3282"/>
<rect x="378.96" y="620.79" width="15.56" height="9.96" fill="#6a3282"/>
<rect x="394.52" y="620.79" width="15.56" height="9.96" fill="#6a3282"/>
<rect x="410.08" y="620.79" width="15.56" height="9.96" fill="#6a3282"/>
<rect x="425.64" y="620.79" width="15.56" height="9.96" fill="#6a3282"/>
<rect x="444.50" y="620.79" width="15.56" height="9.96" fill="#6a3282"/>
<rect x="460.06" y="620.79" width="15.56" height="9.96" fill="#6a3282"/>
<rect x="475.62" y="620.79" width="15.56" height="9.96" fill="#6a3282"/>
<rect x="491.18" y="620.79" width="15.56" height="9.96" fill="#e46a67"/>
<rect x="506.74" y="620.79" width="15.56" height="9.96" fill="#6a3282"/>
<rect x="522.30" y="620.79" width="15.56" height="9.96" fill="#6a3282"/>
<rect x="537.86" y="620.79" width="15.56" height="9.96" fill="#c15072"/>
<rect x="553.42" y="620.79" width="15.56" height="9.96" fill="#6a3282"/>
<rect x="52.20" y="630.75" width="15.56" height="9.96" fill="#6a3282"/>
<rect x="67.76" y="630.75" width="15.56" height="9.96" fill="#6a3282"/>
<rect x="83.32" y="630.75" width="15.56" height="9.96" fill="#6a3282"/>
<rect x="98.88" y="630.75" width="15.56" height="9.96" fill="#6a3282"/>
<rect x="114.44" y="630.75" width="15.56" height="9.96" fill="#6a3282"/>
<rect x="130.00" y="630.75" width="15.56" height="9.96" fill="#6a3282"/>
<rect x="145.56" y="630.75" width="15.56" height="9.96" fill="#6a3282"/>
<rect x="161.12" y="630.75" width="15.56" height="9.96" fill="#6a3282"/>
<rect x="176.68" y="630.75" width="15.56" height="9.96" fill="#c15072"/>
<rect x="192.24" y="630.75" width="15.56" height="9.96" fill="#c15072"/>
<rect x="207.80" y="630.75" width="15.56" height="9.96" fill="#92407f"/>
<rect x="223.36" y="630.75" width="15.56" height="9.96" fill="#c15072"/>
<rect x="238.92" y="630.75" width="15.56" height="9.96" fill="#c15072"/>
<rect x="254.48" y="630.75" width="15.56" height="9.96" fill="#6a3282"/>
<rect x="270.04" y="630.75" width="15.56" height="9.96" fill="#6a3282"/>
<rect x="285.60" y="630.75" width="15.56" height="9.96" fill="#6a3282"/>
<rect x="301.16" y="630.75" width="15.56" height="9.96" fill="#6a3282"/>
<rect x="316.72" y="630.75" width="15.56" height="9.96" fill="#6a3282"/>
<rect x="332.28" y="630.75" width="15.56" height="9.96" fill="#6a3282"/>
<rect x="347.84" y="630.75" width="15.56" height="9.96" fill="#6a3282"/>
<rect x="363.40" y="630.75" width="15.56" height="9.96" fill="#6a3282"/>
<rect x="378.96" y="630.75" width="15.56" height="9.96" fill="#6a3282"/>
<rect x="394.52" y="630.75" width="15.56" height="9.96" fill="#6a3282"/>
<rect x="410.08" y="630.75" width="15.56" height="9.96" fill="#6a3282"/>
<rect x="425.64" y="630.75" width="15.56" height="9.96" fill="#6a3282"/>
<rect x="444.50" y="630.75" width="15.56" height="9.96" fill="#fdfbc4"/>
<rect x="460.06" y="630.75" width="15.56" height="9.96" fill="#6a3282"/>
<rect x="475.62" y="630.75" width="15.56" height="9.96" fill="#6a3282"/>
<rect x="491.18" y="630.75" width="15.56" height="9.96" fill="#6a3282"/>
<rect x="506.74" y="630.75" width="15.56" height="9.96" fill="#c15072"/>
<rect x="522.30" y="630.75" width="15.56" height="9.96" fill="#6a3282"/>
<rect x="537.86" y="630.75" width="15.56" height="9.96" fill="#6a3282"/>
<rect x="553.42" y="630.75" width="15.56" height="9.96" fill="#6a3282"/>
<rect x="52.20" y="640.71" width="15.56" height="9.96" fill="#6a3282"/>
<rect x="67.76" y="640.71" width="15.56" height="9.96" fill="#6a3282"/>
<rect x="83.32" y="640.71" width="15.56" height="9.96" fill="#6a3282"/>
<rect x="98.88" y="640.71" width="15.56" height="9.96" fill="#6a3282"/>
<rect x="114.44" y="640.71" width="15.56" height="9.96" fill="#6a3282"/>
<rect x="130.00" y="640.71" width="15.56" height="9.96" fill="#6a3282"/>
<rect x="145.56" y="640.71" width="15.56" height="9.96" fill="#6a3282"/>
<rect x="161.12" y="640.71" width="15.56" height="9.96" fill="#6a3282"/>
<rect x="176.68" y="640.71" width="15.56" height="9.96" fill="#6a3282"/>
<rect x="192.24" y="640.71" width="15.56" height="9.96" fill="#6a3282"/>
<rect x="207.80" y="640.71" width="15.56" height="9.96" fill="#6a3282"/>
<rect x="223.36" y="640.71" width="15.56" height="9.96" fill="#6a3282"/>
<rect x="238.92" y="640.71" width="15.56" height="9.96" fill="#6a3282"/>
<rect x="254.48" y="640.71" width="15.56" height="9.96" fill="#6a3282"/>
<rect x="270.04" y="640.71" width="15.56" height="9.96" fill="#6a3282"/>
<rect x="285.60" y="640.71" width="15.56" height="9.96" fill="#6a3282"/>
<rect x="301.16" y="640.71" width="15.56" height="9.96" fill="#6a3282"/>
<rect x="316.72" y="640.71" width="15.56" height="9.96" fill="#6a3282"/>
<rect x="332.28" y="640.71" width="15.56" height="9.96" fill="#6a3282"/>
<rect x="347.84" y="640.71" width="15.56" height="9.96" fill="#6a3282"/>
<rect x="363.40" y="640.71" width="15.56" height="9.96" fill="#6a3282"/>
<rect x="378.96" y="640.71" width="15.56" height="9.96" fill="#6a3282"/>
<rect x="394.52" y="640.71" width="15.56" height="9.96" fill="#6a3282"/>
<rect x="410.08" y="640.71" width="15.56" height="9.96" fill="#6a3282"/>
<rect x="425.64" y="640.71" width="15.56" height="9.96" fill="#f8ca94"/>
<rect x="444.50" y="640.71" width="15.56" height="9.96" fill="#6a3282"/>
<rect x="460.06" y="640.71" width="15.56" height="9.96" fill="#6a3282"/>
<rect x="475.62" y="640.71" width="15.56" height="9.96" fill="#6a3282"/>
<rect x="491.18" y="640.71" width="15.56" height="9.96" fill="#e46a67"/>
<rect x="506.74" y="640.71" width="15.56" height="9.96" fill="#e46a67"/>
<rect x="522.30" y="640.71" width="15.56" height="9.96" fill="#c15072"/>
<rect x="537.86" y="640.71" width="15.56" height="9.96" fill="#e46a67"/>
<rect x="553.42" y="640.71" width="15.56" height="9.96" fill="#6a3282"/>
<rect x="52.20" y="650.67" width="15.56" height="9.96" fill="#e46a67"/>
<rect x="67.76" y="650.67" width="15.56" height="9.96" fill="#6a3282"/>
<rect x="83.32" y="650.67" width="15.56" height="9.96" fill="#6a3282"/>
<rect x="98.88" y="650.67" width="15.56" height="9.96" fill="#6a3282"/>
<rect x="114.44" y="650.67" width="15.56" height="9.96" fill="#6a3282"/>
<rect x="130.00" y="650.67" width="15.56" height="9.96" fill="#6a3282"/>
<rect x="145.56" y="650.67" width="15.56" height="9.96" fill="#6a3282"/>
<rect x="161.12" y="650.67" width="15.56" height="9.96" fill="#6a3282"/>
<rect x="176.68" y="650.67" width="15.56" height="9.96" fill="#6a3282"/>
<rect x="192.24" y="650.67" width="15.56" height="9.96" fill="#e46a67"/>
<rect x="207.80" y="650.67" width="15.56" height="9.96" fill="#92407f"/>
<rect x="223.36" y="650.67" width="15.56" height="9.96" fill="#6a3282"/>
<rect x="238.92" y="650.67" width="15.56" height="9.96" fill="#92407f"/>
<rect x="254.48" y="650.67" width="15.56" height="9.96" fill="#6a3282"/>
<rect x="270.04" y="650.67" width="15.56" height="9.96" fill="#6a3282"/>
<rect x="285.60" y="650.67" width="15.56" height="9.96" fill="#6a3282"/>
<rect x="301.16" y="650.67" width="15.56" height="9.96" fill="#6a3282"/>
<rect x="316.72" y="650.67" width="15.56" height="9.96" fill="#6a3282"/>
<rect x="332.28" y="650.67" width="15.56" height="9.96" fill="#6a3282"/>
<rect x="347.84" y="650.67" width="15.56" height="9.96" fill="#6a3282"/>
<rect x="363.40" y="650.67" width="15.56" height="9.96" fill="#6a3282"/>
<rect x="378.96" y="650.67" width="15.56" height="9.96" fill="#6a3282"/>
<rect x="394.52" y="650.67" width="15.56" height="9.96" fill="#6a3282"/>
<rect x="410.08" y="650.67" width="15.56" height="9.96" fill="#6a3282"/>
<rect x="425.64" y="650.67" width="15.56" height="9.96" fill="#fdfbc4"/>
<rect x="444.50" y="650.67" width="15.56" height="9.96" fill="#6a3282"/>
<rect x="460.06" y="650.67" width="15.56" height="9.96" fill="#6a3282"/>
<rect x="475.62" y="650.67" width="15.56" height="9.96" fill="#6a3282"/>
<rect x="491.18" y="650.67" width="15.56" height="9.96" fill="#6a3282"/>
<rect x="506.74" y="650.67" width="15.56" height="9.96" fill="#6a3282"/>
<rect x="522.30" y="650.67" width="15.56" height="9.96" fill="#6a3282"/>
<rect x="537.86" y="650.67" width="15.56" height="9.96" fill="#6a3282"/>
<rect x="553.42" y="650.67" width="15.56" height="9.96" fill="#6a3282"/>
<rect x="52.20" y="660.63" width="15.56" height="9.96" fill="#e46a67"/>
<rect x="67.76" y="660.63" width="15.56" height="9.96" fill="#6a3282"/>
<rect x="83.32" y="660.63" width="15.56" height="9.96" fill="#6a3282"/>
<rect x="98.88" y="660.63" width="15.56" height="9.96" fill="#6a3282"/>
<rect x="114.44" y="660.63" width="15.56" height="9.96" fill="#6a3282"/>
<rect x="130.00" y="660.63" width="15.56" height="9.96" fill="#6a3282"/>
<rect x="145.56" y="660.63" width="15.56" height="9.96" fill="#6a3282"/>
<rect x="161.12" y="660.63" width="15.56" height="9.96" fill="#6a3282"/>
<rect x="176.68" y="660.63" width="15.56" height="9.96" fill="#6a3282"/>
<rect x="192.24" y="660.63" width="15.56" height="9.96" fill="#e46a67"/>
<rect x="207.80" y="660.63" width="15.56" height="9.96" fill="#6a3282"/>
<rect x="223.36" y="660.63" width="15.56" height="9.96" fill="#6a3282"/>
<rect x="238.92" y="660.63" width="15.56" height="9.96" fill="#6a3282"/>
<rect x="254.48" y="660.63" width="15.56" height="9.96" fill="#6a3282"/>
<rect x="270.04" y="660.63" width="15.56" height="9.96" fill="#6a3282"/>
<rect x="285.60" y="660.63" width="15.56" height="9.96" fill="#6a3282"/>
<rect x="301.16" y="660.63" width="15.56" height="9.96" fill="#6a3282"/>
<rect x="316.72" y="660.63" width="15.56" height="9.96" fill="#6a3282"/>
<rect x="332.28" y="660.63" width="15.56" height="9.96" fill="#6a3282"/>
<rect x="347.84" y="660.63" width="15.56" height="9.96" fill="#6a3282"/>
<rect x="363.40" y="660.63" width="15.56" height="9.96" fill="#6a3282"/>
<rect x="378.96" y="660.63" width="15.56" height="9.96" fill="#6a3282"/>
<rect x="394.52" y="660.63" width="15.56" height="9.96" fill="#6a3282"/>
<rect x="410.08" y="660.63" width="15.56" height="9.96" fill="#e46a67"/>
<rect x="425.64" y="660.63" width="15.56" height="9.96" fill="#f8ca94"/>
<rect x="444.50" y="660.63" width="15.56" height="9.96" fill="#6a3282"/>
<rect x="460.06" y="660.63" width="15.56" height="9.96" fill="#6a3282"/>
<rect x="475.62" y="660.63" width="15.56" height="9.96" fill="#6a3282"/>
<rect x="491.18" y="660.63" width="15.56" height="9.96" fill="#6a3282"/>
<rect x="506.74" y="660.63" width="15.56" height="9.96" fill="#92407f"/>
<rect x="522.30" y="660.63" width="15.56" height="9.96" fill="#6a3282"/>
<rect x="537.86" y="660.63" width="15.56" height="9.96" fill="#c15072"/>
<rect x="553.42" y="660.63" width="15.56" height="9.96" fill="#6a3282"/>
<rect x="52.20" y="670.59" width="15.56" height="9.96" fill="#6a3282"/>
<rect x="67.76" y="670.59" width="15.56" height="9.96" fill="#6a3282"/>
<rect x="83.32" y="670.59" width="15.56" height="9.96" fill="#6a3282"/>
<rect x="98.88" y="670.59" width="15.56" height="9.96" fill="#6a3282"/>
<rect x="114.44" y="670.59" width="15.56" height="9.96" fill="#6a3282"/>
<rect x="130.00" y="670.59" width="15.56" height="9.96" fill="#6a3282"/>
<rect x="145.56" y="670.59" width="15.56" height="9.96" fill="#6a3282"/>
<rect x="161.12" y="670.59" width="15.56" height="9.96" fill="#f19970"/>
<rect x="176.68" y="670.59" width="15.56" height="9.96" fill="#e46a67"/>
<rect x="192.24" y="670.59" width="15.56" height="9.96" fill="#6a3282"/>
<rect x="207.80" y="670.59" width="15.56" height="9.96" fill="#6a3282"/>
<rect x="223.36" y="670.59" width="15.56" height="9.96" fill="#6a3282"/>
<rect x="238.92" y="670.59" width="15.56" height="9.96" fill="#6a3282"/>
<rect x="254.48" y="670.59" width="15.56" height="9.96" fill="#6a3282"/>
<rect x="270.04" y="670.59" width="15.56" height="9.96" fill="#6a3282"/>
<rect x="285.60" y="670.59" width="15.56" height="9.96" fill="#6a3282"/>
<rect x="301.16" y="670.59" width="15.56" height="9.96" fill="#6a3282"/>
<rect x="316.72" y="670.59" width="15.56" height="9.96" fill="#6a3282"/>
<rect x="332.28" y="670.59" width="15.56" height="9.96" fill="#6a3282"/>
<rect x="347.84" y="670.59" width="15.56" height="9.96" fill="#6a3282"/>
<rect x="363.40" y="670.59" width="15.56" height="9.96" fill="#6a3282"/>
<rect x="378.96" y="670.59" width="15.56" height="9.96" fill="#6a3282"/>
<rect x="394.52" y="670.59" width="15.56" height="9.96" fill="#6a3282"/>
<rect x="410.08" y="670.59" width="15.56" height="9.96" fill="#e46a67"/>
<rect x="425.64" y="670.59" width="15.56" height="9.96" fill="#6a3282"/>
<rect x="444.50" y="670.59" width="15.56" height="9.96" fill="#6a3282"/>
<rect x="460.06" y="670.59" width="15.56" height="9.96" fill="#6a3282"/>
<rect x="475.62" y="670.59" width="15.56" height="9.96" fill="#6a3282"/>
<rect x="491.18" y="670.59" width="15.56" height="9.96" fill="#6a3282"/>
<rect x="506.74" y="670.59" width="15.56" height="9.96" fill="#f19970"/>
<rect x="522.30" y="670.59" width="15.56" height="9.96" fill="#6a3282"/>
<rect x="537.86" y="670.59" width="15.56" height="9.96" fill="#f19970"/>
<rect x="553.42" y="670.59" width="15.56" height="9.96" fill="#6a3282"/>
<rect x="52.20" y="680.55" width="15.56" height="9.96" fill="#6a3282"/>
<rect x="67.76" y="680.55" width="15.56" height="9.96" fill="#6a3282"/>
<rect x="83.32" y="680.55" width="15.56" height="9.96" fill="#6a3282"/>
<rect x="98.88" y="680.55" width="15.56" height="9.96" fill="#6a3282"/>
<rect x="114.44" y="680.55" width="15.56" height="9.96" fill="#6a3282"/>
<rect x="130.00" y="680.55" width="15.56" height="9.96" fill="#6a3282"/>
<rect x="145.56" y="680.55" width="15.56" height="9.96" fill="#6a3282"/>
<rect x="161.12" y="680.55" width="15.56" height="9.96" fill="#e46a67"/>
<rect x="176.68" y="680.55" width="15.56" height="9.96" fill="#f19970"/>
<rect x="192.24" y="680.55" width="15.56" height="9.96" fill="#6a3282"/>
<rect x="207.80" y="680.55" width="15.56" height="9.96" fill="#6a3282"/>
<rect x="223.36" y="680.55" width="15.56" height="9.96" fill="#92407f"/>
<rect x="238.92" y="680.55" width="15.56" height="9.96" fill="#6a3282"/>
<rect x="254.48" y="680.55" width="15.56" height="9.96" fill="#6a3282"/>
<rect x="270.04" y="680.55" width="15.56" height="9.96" fill="#6a3282"/>
<rect x="285.60" y="680.55" width="15.56" height="9.96" fill="#e46a67"/>
<rect x="301.16" y="680.55" width="15.56" height="9.96" fill="#6a3282"/>
<rect x="316.72" y="680.55" width="15.56" height="9.96" fill="#6a3282"/>
<rect x="332.28" y="680.55" width="15.56" height="9.96" fill="#6a3282"/>
<rect x="347.84" y="680.55" width="15.56" height="9.96" fill="#6a3282"/>
<rect x="363.40" y="680.55" width="15.56" height="9.96" fill="#6a3282"/>
<rect x="378.96" y="680.55" width="15.56" height="9.96" fill="#6a3282"/>
<rect x="394.52" y="680.55" width="15.56" height="9.96" fill="#6a3282"/>
<rect x="410.08" y="680.55" width="15.56" height="9.96" fill="#6a3282"/>
<rect x="425.64" y="680.55" width="15.56" height="9.96" fill="#6a3282"/>
<rect x="444.50" y="680.55" width="15.56" height="9.96" fill="#6a3282"/>
<rect x="460.06" y="680.55" width="15.56" height="9.96" fill="#6a3282"/>
<rect x="475.62" y="680.55" width="15.56" height="9.96" fill="#6a3282"/>
<rect x="491.18" y="680.55" width="15.56" height="9.96" fill="#6a3282"/>
<rect x="506.74" y="680.55" width="15.56" height="9.96" fill="#e46a67"/>
<rect x="522.30" y="680.55" width="15.56" height="9.96" fill="#f19970"/>
<rect x="537.86" y="680.55" width="15.56" height="9.96" fill="#6a3282"/>
<rect x="553.42" y="680.55" width="15.56" height="9.96" fill="#6a3282"/>
<rect x="52.20" y="690.51" width="15.56" height="9.96" fill="#6a3282"/>
<rect x="67.76" y="690.51" width="15.56" height="9.96" fill="#6a3282"/>
<rect x="83.32" y="690.51" width="15.56" height="9.96" fill="#6a3282"/>
<rect x="98.88" y="690.51" width="15.56" height="9.96" fill="#6a3282"/>
<rect x="114.44" y="690.51" width="15.56" height="9.96" fill="#6a3282"/>
<rect x="130.00" y="690.51" width="15.56" height="9.96" fill="#6a3282"/>
<rect x="145.56" y="690.51" width="15.56" height="9.96" fill="#6a3282"/>
<rect x="161.12" y="690.51" width="15.56" height="9.96" fill="#c15072"/>
<rect x="176.68" y="690.51" width="15.56" height="9.96" fill="#6a3282"/>
<rect x="192.24" y="690.51" width="15.56" height="9.96" fill="#92407f"/>
<rect x="207.80" y="690.51" width="15.56" height="9.96" fill="#92407f"/>
<rect x="223.36" y="690.51" width="15.56" height="9.96" fill="#6a3282"/>
<rect x="238.92" y="690.51" width="15.56" height="9.96" fill="#6a3282"/>
<rect x="254.48" y="690.51" width="15.56" height="9.96" fill="#c15072"/>
<rect x="270.04" y="690.51" width="15.56" height="9.96" fill="#6a3282"/>
<rect x="285.60" y="690.51" width="15.56" height="9.96" fill="#6a3282"/>
<rect x="301.16" y="690.51" width="15.56" height="9.96" fill="#6a3282"/>
<rect x="316.72" y="690.51" width="15.56" height="9.96" fill="#6a3282"/>
<rect x="332.28" y="690.51" width="15.56" height="9.96" fill="#6a3282"/>
<rect x="347.84" y="690.51" width="15.56" height="9.96" fill="#6a3282"/>
<rect x="363.40" y="690.51" width="15.56" height="9.96" fill="#6a3282"/>
<rect x="378.96" y="690.51" width="15.56" height="9.96" fill="#6a3282"/>
<rect x="394.52" y="690.51" width="15.56" height="9.96" fill="#6a3282"/>
<rect x="410.08" y="690.51" width="15.56" height="9.96" fill="#6a3282"/>
<rect x="425.64" y="690.51" width="15.56" height="9.96" fill="#6a3282"/>
<rect x="444.50" y="690.51" width="15.56" height="9.96" fill="#6a3282"/>
<rect x="460.06" y="690.51" width="15.56" height="9.96" fill="#e46a67"/>
<rect x="475.62" y="690.51" width="15.56" height="9.96" fill="#6a3282"/>
<rect x="491.18" y="690.51" width="15.56" height="9.96" fill="#c15072"/>
<rect x="506.74" y="690.51" width="15.56" height="9.96" fill="#e46a67"/>
<rect x="522.30" y="690.51" width="15.56" height="9.96" fill="#f8ca94"/>
<rect x="537.86" y="690.51" width="15.56" height="9.96" fill="#c15072"/>
<rect x="553.42" y="690.51" width="15.56" height="9.96" fill="#6a3282"/>
<rect x="52.20" y="700.46" width="15.56" height="9.96" fill="#6a3282"/>
<rect x="67.76" y="700.46" width="15.56" height="9.96" fill="#6a3282"/>
<rect x="83.32" y="700.46" width="15.56" height="9.96" fill="#6a3282"/>
<rect x="98.88" y="700.46" width="15.56" height="9.96" fill="#6a3282"/>
<rect x="114.44" y="700.46" width="15.56" height="9.96" fill="#6a3282"/>
<rect x="130.00" y="700.46" width="15.56" height="9.96" fill="#6a3282"/>
<rect x="145.56" y="700.46" width="15.56" height="9.96" fill="#6a3282"/>
<rect x="161.12" y="700.46" width="15.56" height="9.96" fill="#6a3282"/>
<rect x="176.68" y="700.46" width="15.56" height="9.96" fill="#6a3282"/>
<rect x="192.24" y="700.46" width="15.56" height="9.96" fill="#c15072"/>
<rect x="207.80" y="700.46" width="15.56" height="9.96" fill="#6a3282"/>
<rect x="223.36" y="700.46" width="15.56" height="9.96" fill="#6a3282"/>
<rect x="238.92" y="700.46" width="15.56" height="9.96" fill="#6a3282"/>
<rect x="254.48" y="700.46" width="15.56" height="9.96" fill="#6a3282"/>
<rect x="270.04" y="700.46" width="15.56" height="9.96" fill="#6a3282"/>
<rect x="285.60" y="700.46" width="15.56" height="9.96" fill="#6a3282"/>
<rect x="301.16" y="700.46" width="15.56" height="9.96" fill="#6a3282"/>
<rect x="316.72" y="700.46" width="15.56" height="9.96" fill="#6a3282"/>
<rect x="332.28" y="700.46" width="15.56" height="9.96" fill="#6a3282"/>
<rect x="347.84" y="700.46" width="15.56" height="9.96" fill="#6a3282"/>
<rect x="363.40" y="700.46" width="15.56" height="9.96" fill="#6a3282"/>
<rect x="378.96" y="700.46" width="15.56" height="9.96" fill="#6a3282"/>
<rect x="394.52" y="700.46" width="15.56" height="9.96" fill="#6a3282"/>
<rect x="410.08" y="700.46" width="15.56" height="9.96" fill="#6a3282"/>
<rect x="425.64" y="700.46" width="15.56" height="9.96" fill="#92407f"/>
<rect x="444.50" y="700.46" width="15.56" height="9.96" fill="#6a3282"/>
<rect x="460.06" y="700.46" width="15.56" height="9.96" fill="#92407f"/>
<rect x="475.62" y="700.46" width="15.56" height="9.96" fill="#6a3282"/>
<rect x="491.18" y="700.46" width="15.56" height="9.96" fill="#92407f"/>
<rect x="506.74" y="700.46" width="15.56" height="9.96" fill="#e46a67"/>
<rect x="522.30" y="700.46" width="15.56" height="9.96" fill="#f8ca94"/>
<rect x="537.86" y="700.46" width="15.56" height="9.96" fill="#e46a67"/>
<rect x="553.42" y="700.46" width="15.56" height="9.96" fill="#e46a67"/>
<rect x="52.20" y="710.42" width="15.56" height="9.96" fill="#6a3282"/>
<rect x="67.76" y="710.42" width="15.56" height="9.96" fill="#6a3282"/>
<rect x="83.32" y="710.42" width="15.56" height="9.96" fill="#6a3282"/>
<rect x="98.88" y="710.42" width="15.56" height="9.96" fill="#6a3282"/>
<rect x="114.44" y="710.42" width="15.56" height="9.96" fill="#6a3282"/>
<rect x="130.00" y="710.42" width="15.56" height="9.96" fill="#6a3282"/>
<rect x="145.56" y="710.42" width="15.56" height="9.96" fill="#6a3282"/>
<rect x="161.12" y="710.42" width="15.56" height="9.96" fill="#6a3282"/>
<rect x="176.68" y="710.42" width="15.56" height="9.96" fill="#6a3282"/>
<rect x="192.24" y="710.42" width="15.56" height="9.96" fill="#c15072"/>
<rect x="207.80" y="710.42" width="15.56" height="9.96" fill="#6a3282"/>
<rect x="223.36" y="710.42" width="15.56" height="9.96" fill="#6a3282"/>
<rect x="238.92" y="710.42" width="15.56" height="9.96" fill="#6a3282"/>
<rect x="254.48" y="710.42" width="15.56" height="9.96" fill="#6a3282"/>
<rect x="270.04" y="710.42" width="15.56" height="9.96" fill="#6a3282"/>
<rect x="285.60" y="710.42" width="15.56" height="9.96" fill="#6a3282"/>
<rect x="301.16" y="710.42" width="15.56" height="9.96" fill="#6a3282"/>
<rect x="316.72" y="710.42" width="15.56" height="9.96" fill="#6a3282"/>
<rect x="332.28" y="710.42" width="15.56" height="9.96" fill="#6a3282"/>
<rect x="347.84" y="710.42" width="15.56" height="9.96" fill="#6a3282"/>
<rect x="363.40" y="710.42" width="15.56" height="9.96" fill="#6a3282"/>
<rect x="378.96" y="710.42" width="15.56" height="9.96" fill="#6a3282"/>
<rect x="394.52" y="710.42" width="15.56" height="9.96" fill="#6a3282"/>
<rect x="410.08" y="710.42" width="15.56" height="9.96" fill="#6a3282"/>
<rect x="425.64" y="710.42" width="15.56" height="9.96" fill="#6a3282"/>
<rect x="444.50" y="710.42" width="15.56" height="9.96" fill="#e46a67"/>
<rect x="460.06" y="710.42" width="15.56" height="9.96" fill="#e46a67"/>
<rect x="475.62" y="710.42" width="15.56" height="9.96" fill="#6a3282"/>
<rect x="491.18" y="710.42" width="15.56" height="9.96" fill="#6a3282"/>
<rect x="506.74" y="710.42" width="15.56" height="9.96" fill="#e46a67"/>
<rect x="522.30" y="710.42" width="15.56" height="9.96" fill="#f8ca94"/>
<rect x="537.86" y="710.42" width="15.56" height="9.96" fill="#92407f"/>
<rect x="553.42" y="710.42" width="15.56" height="9.96" fill="#e46a67"/>
<rect x="52.20" y="720.38" width="15.56" height="9.96" fill="#402478"/>
<rect x="67.76" y="720.38" width="15.56" height="9.96" fill="#6a3282"/>
<rect x="83.32" y="720.38" width="15.56" height="9.96" fill="#92407f"/>
<rect x="98.88" y="720.38" width="15.56" height="9.96" fill="#402478"/>
<rect x="114.44" y="720.38" width="15.56" height="9.96" fill="#c15072"/>
<rect x="130.00" y="720.38" width="15.56" height="9.96" fill="#6a3282"/>
<rect x="145.56" y="720.38" width="15.56" height="9.96" fill="#6a3282"/>
<rect x="161.12" y="720.38" width="15.56" height="9.96" fill="#6a3282"/>
<rect x="176.68" y="720.38" width="15.56" height="9.96" fill="#402478"/>
<rect x="192.24" y="720.38" width="15.56" height="9.96" fill="#92407f"/>
<rect x="207.80" y="720.38" width="15.56" height="9.96" fill="#6a3282"/>
<rect x="223.36" y="720.38" width="15.56" height="9.96" fill="#92407f"/>
<rect x="238.92" y="720.38" width="15.56" height="9.96" fill="#92407f"/>
<rect x="254.48" y="720.38" width="15.56" height="9.96" fill="#6a3282"/>
<rect x="270.04" y="720.38" width="15.56" height="9.96" fill="#402478"/>
<rect x="285.60" y="720.38" width="15.56" height="9.96" fill="#402478"/>
<rect x="301.16" y="720.38" width="15.56" height="9.96" fill="#92407f"/>
<rect x="316.72" y="720.38" width="15.56" height="9.96" fill="#6a3282"/>
<rect x="332.28" y="720.38" width="15.56" height="9.96" fill="#402478"/>
<rect x="347.84" y="720.38" width="15.56" height="9.96" fill="#402478"/>
<rect x="363.40" y="720.38" width="15.56" height="9.96" fill="#402478"/>
<rect x="378.96" y="720.38" width="15.56" height="9.96" fill="#6a3282"/>
<rect x="394.52" y="720.38" width="15.56" height="9.96" fill="#6a3282"/>
<rect x="410.08" y="720.38" width="15.56" height="9.96" fill="#c15072"/>
<rect x="425.64" y="720.38" width="15.56" height="9.96" fill="#92407f"/>
<rect x="444.50" y="720.38" width="15.56" height="9.96" fill="#92407f"/>
<rect x="460.06" y="720.38" width="15.56" height="9.96" fill="#92407f"/>
<rect x="475.62" y="720.38" width="15.56" height="9.96" fill="#c15072"/>
<rect x="491.18" y="720.38" width="15.56" height="9.96" fill="#c15072"/>
<rect x="506.74" y="720.38" width="15.56" height="9.96" fill="#c15072"/>
<rect x="522.30" y="720.38" width="15.56" height="9.96" fill="#f19970"/>
<rect x="537.86" y="720.38" width="15.56" height="9.96" fill="#c15072"/>
<rect x="553.42" y="720.38" width="15.56" height="9.96" fill="#c15072"/>
<rect x="52.20" y="730.34" width="15.56" height="9.96" fill="#6a3282"/>
<rect x="67.76" y="730.34" width="15.56" height="9.96" fill="#6a3282"/>
<rect x="83.32" y="730.34" width="15.56" height="9.96" fill="#6a3282"/>
<rect x="98.88" y="730.34" width="15.56" height="9.96" fill="#6a3282"/>
<rect x="114.44" y="730.34" width="15.56" height="9.96" fill="#6a3282"/>
<rect x="130.00" y="730.34" width="15.56" height="9.96" fill="#6a3282"/>
<rect x="145.56" y="730.34" width="15.56" height="9.96" fill="#6a3282"/>
<rect x="161.12" y="730.34" width="15.56" height="9.96" fill="#6a3282"/>
<rect x="176.68" y="730.34" width="15.56" height="9.96" fill="#6a3282"/>
<rect x="192.24" y="730.34" width="15.56" height="9.96" fill="#6a3282"/>
<rect x="207.80" y="730.34" width="15.56" height="9.96" fill="#6a3282"/>
<rect x="223.36" y="730.34" width="15.56" height="9.96" fill="#6a3282"/>
<rect x="238.92" y="730.34" width="15.56" height="9.96" fill="#6a3282"/>
<rect x="254.48" y="730.34" width="15.56" height="9.96" fill="#6a3282"/>
<rect x="270.04" y="730.34" width="15.56" height="9.96" fill="#6a3282"/>
<rect x="285.60" y="730.34" width="15.56" height="9.96" fill="#6a3282"/>
<rect x="301.16" y="730.34" width="15.56" height="9.96" fill="#6a3282"/>
<rect x="316.72" y="730.34" width="15.56" height="9.96" fill="#6a3282"/>
<rect x="332.28" y="730.34" width="15.56" height="9.96" fill="#6a3282"/>
<rect x="347.84" y="730.34" width="15.56" height="9.96" fill="#6a3282"/>
<rect x="363.40" y="730.34" width="15.56" height="9.96" fill="#6a3282"/>
<rect x="378.96" y="730.34" width="15.56" height="9.96" fill="#6a3282"/>
<rect x="394.52" y="730.34" width="15.56" height="9.96" fill="#6a3282"/>
<rect x="410.08" y="730.34" width="15.56" height="9.96" fill="#c15072"/>
<rect x="425.64" y="730.34" width="15.56" height="9.96" fill="#6a3282"/>
<rect x="444.50" y="730.34" width="15.56" height="9.96" fill="#6a3282"/>
<rect x="460.06" y="730.34" width="15.56" height="9.96" fill="#6a3282"/>
<rect x="475.62" y="730.34" width="15.56" height="9.96" fill="#6a3282"/>
<rect x="491.18" y="730.34" width="15.56" height="9.96" fill="#f19970"/>
<rect x="506.74" y="730.34" width="15.56" height="9.96" fill="#6a3282"/>
<rect x="522.30" y="730.34" width="15.56" height="9.96" fill="#f8ca94"/>
<rect x="537.86" y="730.34" width="15.56" height="9.96" fill="#e46a67"/>
<rect x="553.42" y="730.34" width="15.56" height="9.96" fill="#e46a67"/>
<rect x="52.20" y="740.30" width="15.56" height="9.96" fill="#e46a67"/>
<rect x="67.76" y="740.30" width="15.56" height="9.96" fill="#fdfbc4"/>
<rect x="83.32" y="740.30" width="15.56" height="9.96" fill="#6a3282"/>
<rect x="98.88" y="740.30" width="15.56" height="9.96" fill="#6a3282"/>
<rect x="114.44" y="740.30" width="15.56" height="9.96" fill="#6a3282"/>
<rect x="130.00" y="740.30" width="15.56" height="9.96" fill="#6a3282"/>
<rect x="145.56" y="740.30" width="15.56" height="9.96" fill="#6a3282"/>
<rect x="161.12" y="740.30" width="15.56" height="9.96" fill="#6a3282"/>
<rect x="176.68" y="740.30" width="15.56" height="9.96" fill="#6a3282"/>
<rect x="192.24" y="740.30" width="15.56" height="9.96" fill="#6a3282"/>
<rect x="207.80" y="740.30" width="15.56" height="9.96" fill="#c15072"/>
<rect x="223.36" y="740.30" width="15.56" height="9.96" fill="#92407f"/>
<rect x="238.92" y="740.30" width="15.56" height="9.96" fill="#92407f"/>
<rect x="254.48" y="740.30" width="15.56" height="9.96" fill="#6a3282"/>
<rect x="270.04" y="740.30" width="15.56" height="9.96" fill="#6a3282"/>
<rect x="285.60" y="740.30" width="15.56" height="9.96" fill="#6a3282"/>
<rect x="301.16" y="740.30" width="15.56" height="9.96" fill="#6a3282"/>
<rect x="316.72" y="740.30" width="15.56" height="9.96" fill="#6a3282"/>
<rect x="332.28" y="740.30" width="15.56" height="9.96" fill="#6a3282"/>
<rect x="347.84" y="740.30" width="15.56" height="9.96" fill="#6a3282"/>
<rect x="363.40" y="740.30" width="15.56" height="9.96" fill="#6a3282"/>
<rect x="378.96" y="740.30" width="15.56" height="9.96" fill="#6a3282"/>
<rect x="394.52" y="740.30" width="15.56" height="9.96" fill="#6a3282"/>
<rect x="410.08" y="740.30" width="15.56" height="9.96" fill="#6a3282"/>
<rect x="425.64" y="740.30" width="15.56" height="9.96" fill="#6a3282"/>
<rect x="444.50" y="740.30" width="15.56" height="9.96" fill="#6a3282"/>
<rect x="460.06" y="740.30" width="15.56" height="9.96" fill="#6a3282"/>
<rect x="475.62" y="740.30" width="15.56" height="9.96" fill="#6a3282"/>
<rect x="491.18" y="740.30" width="15.56" height="9.96" fill="#92407f"/>
<rect x="506.74" y="740.30" width="15.56" height="9.96" fill="#6a3282"/>
<rect x="522.30" y="740.30" width="15.56" height="9.96" fill="#6a3282"/>
<rect x="537.86" y="740.30" width="15.56" height="9.96" fill="#6a3282"/>
<rect x="553.42" y="740.30" width="15.56" height="9.96" fill="#6a3282"/>
<rect x="52.20" y="750.26" width="15.56" height="9.96" fill="#fdfbc4"/>
<rect x="67.76" y="750.26" width="15.56" height="9.96" fill="#6a3282"/>
<rect x="83.32" y="750.26" width="15.56" height="9.96" fill="#6a3282"/>
<rect x="98.88" y="750.26" width="15.56" height="9.96" fill="#6a3282"/>
<rect x="114.44" y="750.26" width="15.56" height="9.96" fill="#6a3282"/>
<rect x="130.00" y="750.26" width="15.56" height="9.96" fill="#6a3282"/>
<rect x="145.56" y="750.26" width="15.56" height="9.96" fill="#6a3282"/>
<rect x="161.12" y="750.26" width="15.56" height="9.96" fill="#f19970"/>
<rect x="176.68" y="750.26" width="15.56" height="9.96" fill="#6a3282"/>
<rect x="192.24" y="750.26" width="15.56" height="9.96" fill="#6a3282"/>
<rect x="207.80" y="750.26" width="15.56" height="9.96" fill="#6a3282"/>
<rect x="223.36" y="750.26" width="15.56" height="9.96" fill="#6a3282"/>
<rect x="238.92" y="750.26" width="15.56" height="9.96" fill="#c15072"/>
<rect x="254.48" y="750.26" width="15.56" height="9.96" fill="#6a3282"/>
<rect x="270.04" y="750.26" width="15.56" height="9.96" fill="#6a3282"/>
<rect x="285.60" y="750.26" width="15.56" height="9.96" fill="#6a3282"/>
<rect x="301.16" y="750.26" width="15.56" height="9.96" fill="#6a3282"/>
<rect x="316.72" y="750.26" width="15.56" height="9.96" fill="#6a3282"/>
<rect x="332.28" y="750.26" width="15.56" height="9.96" fill="#6a3282"/>
<rect x="347.84" y="750.26" width="15.56" height="9.96" fill="#6a3282"/>
<rect x="363.40" y="750.26" width="15.56" height="9.96" fill="#6a3282"/>
<rect x="378.96" y="750.26" width="15.56" height="9.96" fill="#6a3282"/>
<rect x="394.52" y="750.26" width="15.56" height="9.96" fill="#6a3282"/>
<rect x="410.08" y="750.26" width="15.56" height="9.96" fill="#6a3282"/>
<rect x="425.64" y="750.26" width="15.56" height="9.96" fill="#6a3282"/>
<rect x="444.50" y="750.26" width="15.56" height="9.96" fill="#6a3282"/>
<rect x="460.06" y="750.26" width="15.56" height="9.96" fill="#6a3282"/>
<rect x="475.62" y="750.26" width="15.56" height="9.96" fill="#6a3282"/>
<rect x="491.18" y="750.26" width="15.56" height="9.96" fill="#6a3282"/>
<rect x="506.74" y="750.26" width="15.56" height="9.96" fill="#e46a67"/>
<rect x="522.30" y="750.26" width="15.56" height="9.96" fill="#6a3282"/>
<rect x="537.86" y="750.26" width="15.56" height="9.96" fill="#c15072"/>
<rect x="553.42" y="750.26" width="15.56" height="9.96" fill="#6a3282"/>
<rect x="52.20" y="760.22" width="15.56" height="9.96" fill="#f19970"/>
<rect x="67.76" y="760.22" width="15.56" height="9.96" fill="#6a3282"/>
<rect x="83.32" y="760.22" width="15.56" height="9.96" fill="#6a3282"/>
<rect x="98.88" y="760.22" width="15.56" height="9.96" fill="#6a3282"/>
<rect x="114.44" y="760.22" width="15.56" height="9.96" fill="#6a3282"/>
<rect x="130.00" y="760.22" width="15.56" height="9.96" fill="#6a3282"/>
<rect x="145.56" y="760.22" width="15.56" height="9.96" fill="#6a3282"/>
<rect x="161.12" y="760.22" width="15.56" height="9.96" fill="#92407f"/>
<rect x="176.68" y="760.22" width="15.56" height="9.96" fill="#6a3282"/>
<rect x="192.24" y="760.22" width="15.56" height="9.96" fill="#92407f"/>
<rect x="207.80" y="760.22" width="15.56" height="9.96" fill="#92407f"/>
<rect x="223.36" y="760.22" width="15.56" height="9.96" fill="#c15072"/>
<rect x="238.92" y="760.22" width="15.56" height="9.96" fill="#6a3282"/>
<rect x="254.48" y="760.22" width="15.56" height="9.96" fill="#6a3282"/>
<rect x="270.04" y="760.22" width="15.56" height="9.96" fill="#6a3282"/>
<rect x="285.60" y="760.22" width="15.56" height="9.96" fill="#6a3282"/>
<rect x="301.16" y="760.22" width="15.56" height="9.96" fill="#6a3282"/>
<rect x="316.72" y="760.22" width="15.56" height="9.96" fill="#6a3282"/>
<rect x="332.28" y="760.22" width="15.56" height="9.96" fill="#6a3282"/>
<rect x="347.84" y="760.22" width="15.56" height="9.96" fill="#6a3282"/>
<rect x="363.40" y="760.22" width="15.56" height="9.96" fill="#6a3282"/>
<rect x="378.96" y="760.22" width="15.56" height="9.96" fill="#6a3282"/>
<rect x="394.52" y="760.22" width="15.56" height="9.96" fill="#6a3282"/>
<rect x="410.08" y="760.22" width="15.56" height="9.96" fill="#c15072"/>
<rect x="425.64" y="760.22" width="15.56" height="9.96" fill="#f19970"/>
<rect x="444.50" y="760.22" width="15.56" height="9.96" fill="#6a3282"/>
<rect x="460.06" y="760.22" width="15.56" height="9.96" fill="#6a3282"/>
<rect x="475.62" y="760.22" width="15.56" height="9.96" fill="#6a3282"/>
<rect x="491.18" y="760.22" width="15.56" height="9.96" fill="#92407f"/>
<rect x="506.74" y="760.22" width="15.56" height="9.96" fill="#c15072"/>
<rect x="522.30" y="760.22" width="15.56" height="9.96" fill="#6a3282"/>
<rect x="537.86" y="760.22" width="15.56" height="9.96" fill="#f19970"/>
<rect x="553.42" y="760.22" width="15.56" height="9.96" fill="#6a3282"/>
<rect x="52.20" y="770.18" width="15.56" height="9.96" fill="#e46a67"/>
<rect x="67.76" y="770.18" width="15.56" height="9.96" fill="#6a3282"/>
<rect x="83.32" y="770.18" width="15.56" height="9.96" fill="#6a3282"/>
<rect x="98.88" y="770.18" width="15.56" height="9.96" fill="#92407f"/>
<rect x="114.44" y="770.18" width="15.56" height="9.96" fill="#6a3282"/>
<rect x="130.00" y="770.18" width="15.56" height="9.96" fill="#6a3282"/>
<rect x="145.56" y="770.18" width="15.56" height="9.96" fill="#6a3282"/>
<rect x="161.12" y="770.18" width="15.56" height="9.96" fill="#6a3282"/>
<rect x="176.68" y="770.18" width="15.56" height="9.96" fill="#6a3282"/>
<rect x="192.24" y="770.18" width="15.56" height="9.96" fill="#6a3282"/>
<rect x="207.80" y="770.18" width="15.56" height="9.96" fill="#6a3282"/>
<rect x="223.36" y="770.18" width="15.56" height="9.96" fill="#6a3282"/>
<rect x="238.92" y="770.18" width="15.56" height="9.96" fill="#6a3282"/>
<rect x="254.48" y="770.18" width="15.56" height="9.96" fill="#6a3282"/>
<rect x="270.04" y="770.18" width="15.56" height="9.96" fill="#6a3282"/>
<rect x="285.60" y="770.18" width="15.56" height="9.96" fill="#6a3282"/>
<rect x="301.16" y="770.18" width="15.56" height="9.96" fill="#6a3282"/>
<rect x="316.72" y="770.18" width="15.56" height="9.96" fill="#6a3282"/>
<rect x="332.28" y="770.18" width="15.56" height="9.96" fill="#6a3282"/>
<rect x="347.84" y="770.18" width="15.56" height="9.96" fill="#6a3282"/>
<rect x="363.40" y="770.18" width="15.56" height="9.96" fill="#6a3282"/>
<rect x="378.96" y="770.18" width="15.56" height="9.96" fill="#6a3282"/>
<rect x="394.52" y="770.18" width="15.56" height="9.96" fill="#6a3282"/>
<rect x="410.08" y="770.18" width="15.56" height="9.96" fill="#c15072"/>
<rect x="425.64" y="770.18" width="15.56" height="9.96" fill="#6a3282"/>
<rect x="444.50" y="770.18" width="15.56" height="9.96" fill="#6a3282"/>
<rect x="460.06" y="770.18" width="15.56" height="9.96" fill="#f8ca94"/>
<rect x="475.62" y="770.18" width="15.56" height="9.96" fill="#6a3282"/>
<rect x="491.18" y="770.18" width="15.56" height="9.96" fill="#6a3282"/>
<rect x="506.74" y="770.18" width="15.56" height="9.96" fill="#92407f"/>
<rect x="522.30" y="770.18" width="15.56" height="9.96" fill="#f19970"/>
<rect x="537.86" y="770.18" width="15.56" height="9.96" fill="#92407f"/>
<rect x="553.42" y="770.18" width="15.56" height="9.96" fill="#6a3282"/>
<rect x="52.20" y="780.14" width="15.56" height="9.96" fill="#f19970"/>
<rect x="67.76" y="780.14" width="15.56" height="9.96" fill="#6a3282"/>
<rect x="83.32" y="780.14" width="15.56" height="9.96" fill="#f8ca94"/>
<rect x="98.88" y="780.14" width="15.56" height="9.96" fill="#6a3282"/>
<rect x="114.44" y="780.14" width="15.56" height="9.96" fill="#6a3282"/>
<rect x="130.00" y="780.14" width="15.56" height="9.96" fill="#6a3282"/>
<rect x="145.56" y="780.14" width="15.56" height="9.96" fill="#6a3282"/>
<rect x="161.12" y="780.14" width="15.56" height="9.96" fill="#6a3282"/>
<rect x="176.68" y="780.14" width="15.56" height="9.96" fill="#6a3282"/>
<rect x="192.24" y="780.14" width="15.56" height="9.96" fill="#6a3282"/>
<rect x="207.80" y="780.14" width="15.56" height="9.96" fill="#6a3282"/>
<rect x="223.36" y="780.14" width="15.56" height="9.96" fill="#6a3282"/>
<rect x="238.92" y="780.14" width="15.56" height="9.96" fill="#6a3282"/>
<rect x="254.48" y="780.14" width="15.56" height="9.96" fill="#6a3282"/>
<rect x="270.04" y="780.14" width="15.56" height="9.96" fill="#6a3282"/>
<rect x="285.60" y="780.14" width="15.56" height="9.96" fill="#6a3282"/>
<rect x="301.16" y="780.14" width="15.56" height="9.96" fill="#6a3282"/>
<rect x="316.72" y="780.14" width="15.56" height="9.96" fill="#6a3282"/>
<rect x="332.28" y="780.14" width="15.56" height="9.96" fill="#6a3282"/>
<rect x="347.84" y="780.14" width="15.56" height="9.96" fill="#6a3282"/>
<rect x="363.40" y="780.14" width="15.56" height="9.96" fill="#6a3282"/>
<rect x="378.96" y="780.14" width="15.56" height="9.96" fill="#6a3282"/>
<rect x="394.52" y="780.14" width="15.56" height="9.96" fill="#6a3282"/>
<rect x="410.08" y="780.14" width="15.56" height="9.96" fill="#6a3282"/>
<rect x="425.64" y="780.14" width="15.56" height="9.96" fill="#6a3282"/>
<rect x="444.50" y="780.14" width="15.56" height="9.96" fill="#6a3282"/>
<rect x="460.06" y="780.14" width="15.56" height="9.96" fill="#e46a67"/>
<rect x="475.62" y="780.14" width="15.56" height="9.96" fill="#6a3282"/>
<rect x="491.18" y="780.14" width="15.56" height="9.96" fill="#6a3282"/>
<rect x="506.74" y="780.14" width="15.56" height="9.96" fill="#e46a67"/>
<rect x="522.30" y="780.14" width="15.56" height="9.96" fill="#6a3282"/>
<rect x="537.86" y="780.14" width="15.56" height="9.96" fill="#6a3282"/>
<rect x="553.42" y="780.14" width="15.56" height="9.96" fill="#e46a67"/>
</g>
<g stroke="#9a9a9a" stroke-width="0.8">
<rect x="52.20" y="336.0" width="15.56" height="9.5" fill="#fff799"/>
<rect x="67.76" y="336.0" width="15.56" height="9.5" fill="#fff799"/>
<rect x="83.32" y="336.0" width="15.56" height="9.5" fill="#2e6aa8"/>
<rect x="98.88" y="336.0" width="15.56" height="9.5" fill="#2e6aa8"/>
<rect x="114.44" y="336.0" width="15.56" height="9.5" fill="#2e6aa8"/>
<rect x="130.00" y="336.0" width="15.56" height="9.5" fill="#2e6aa8"/>
<rect x="145.56" y="336.0" width="15.56" height="9.5" fill="#2e6aa8"/>
<rect x="161.12" y="336.0" width="15.56" height="9.5" fill="#4a9a7a"/>
<rect x="176.68" y="336.0" width="15.56" height="9.5" fill="#4a9a7a"/>
<rect x="192.24" y="336.0" width="15.56" height="9.5" fill="#4a9a7a"/>
<rect x="207.80" y="336.0" width="15.56" height="9.5" fill="#4a9a7a"/>
<rect x="223.36" y="336.0" width="15.56" height="9.5" fill="#4a9a7a"/>
<rect x="238.92" y="336.0" width="15.56" height="9.5" fill="#4a9a7a"/>
<rect x="254.48" y="336.0" width="15.56" height="9.5" fill="#4a9a7a"/>
<rect x="270.04" y="336.0" width="15.56" height="9.5" fill="#4a9a7a"/>
<rect x="285.60" y="336.0" width="15.56" height="9.5" fill="#4a9a7a"/>
<rect x="301.16" y="336.0" width="15.56" height="9.5" fill="#2e6aa8"/>
<rect x="316.72" y="336.0" width="15.56" height="9.5" fill="#2e6aa8"/>
<rect x="332.28" y="336.0" width="15.56" height="9.5" fill="#4a9a7a"/>
<rect x="347.84" y="336.0" width="15.56" height="9.5" fill="#2e6aa8"/>
<rect x="363.40" y="336.0" width="15.56" height="9.5" fill="#2e6aa8"/>
<rect x="378.96" y="336.0" width="15.56" height="9.5" fill="#2e6aa8"/>
<rect x="394.52" y="336.0" width="15.56" height="9.5" fill="#2e6aa8"/>
<rect x="410.08" y="336.0" width="15.56" height="9.5" fill="#4a9a7a"/>
<rect x="425.64" y="336.0" width="15.56" height="9.5" fill="#4a9a7a"/>
<rect x="444.50" y="336.0" width="15.56" height="9.5" fill="#fff799"/>
<rect x="460.06" y="336.0" width="15.56" height="9.5" fill="#fff799"/>
<rect x="475.62" y="336.0" width="15.56" height="9.5" fill="#fff799"/>
<rect x="491.18" y="336.0" width="15.56" height="9.5" fill="#fff799"/>
<rect x="506.74" y="336.0" width="15.56" height="9.5" fill="#fff799"/>
<rect x="522.30" y="336.0" width="15.56" height="9.5" fill="#fff799"/>
<rect x="537.86" y="336.0" width="15.56" height="9.5" fill="#4a9a7a"/>
<rect x="553.42" y="336.0" width="15.56" height="9.5" fill="#fff799"/>
</g>
<path d="M137.8 335.0L137.8 328.0M153.3 335.0L153.3 328.0M137.8 328.0L153.3 328.0M122.2 335.0L122.2 322.5M145.6 328.0L145.6 322.5M122.2 322.5L145.6 322.5M106.7 335.0L106.7 320.0M133.9 322.5L133.9 320.0M106.7 320.0L133.9 320.0M91.1 335.0L91.1 318.8M120.3 320.0L120.3 318.8M91.1 318.8L120.3 318.8M75.5 335.0L75.5 312.3M105.7 318.8L105.7 312.3M75.5 312.3L105.7 312.3M60.0 335.0L60.0 305.1M90.6 312.3L90.6 305.1M60.0 305.1L90.6 305.1M168.9 335.0L168.9 311.7M184.5 335.0L184.5 311.7M168.9 311.7L184.5 311.7M231.1 335.0L231.1 320.9M246.7 335.0L246.7 320.9M231.1 320.9L246.7 320.9M215.6 335.0L215.6 313.9M238.9 320.9L238.9 313.9M215.6 313.9L238.9 313.9M200.0 335.0L200.0 308.9M227.2 313.9L227.2 308.9M200.0 308.9L227.2 308.9M277.8 335.0L277.8 317.0M293.4 335.0L293.4 317.0M277.8 317.0L293.4 317.0M308.9 335.0L308.9 323.8M324.5 335.0L324.5 323.8M308.9 323.8L324.5 323.8M355.6 335.0L355.6 326.1M371.2 335.0L371.2 326.1M355.6 326.1L371.2 326.1M386.7 335.0L386.7 326.1M402.3 335.0L402.3 326.1M386.7 326.1L402.3 326.1M363.4 326.1L363.4 320.3M394.5 326.1L394.5 320.3M363.4 320.3L394.5 320.3M340.1 335.0L340.1 315.9M379.0 320.3L379.0 315.9M340.1 315.9L379.0 315.9M316.7 323.8L316.7 314.4M359.5 315.9L359.5 314.4M316.7 314.4L359.5 314.4M285.6 317.0L285.6 311.5M338.1 314.4L338.1 311.5M285.6 311.5L338.1 311.5M262.3 335.0L262.3 307.5M311.9 311.5L311.9 307.5M262.3 307.5L311.9 307.5M213.6 308.9L213.6 306.0M287.1 307.5L287.1 306.0M213.6 306.0L287.1 306.0M176.7 311.7L176.7 305.2M250.3 306.0L250.3 305.2M176.7 305.2L250.3 305.2M75.3 305.1L75.3 298.5M213.5 305.2L213.5 298.5M75.3 298.5L213.5 298.5M417.9 335.0L417.9 295.3M433.4 335.0L433.4 295.3M417.9 295.3L433.4 295.3M144.4 298.5L144.4 294.8M425.6 295.3L425.6 294.8M144.4 294.8L425.6 294.8M483.4 335.0L483.4 309.2M499.0 335.0L499.0 309.2M483.4 309.2L499.0 309.2M467.8 335.0L467.8 303.9M491.2 309.2L491.2 303.9M467.8 303.9L491.2 303.9M452.3 335.0L452.3 299.4M479.5 303.9L479.5 299.4M452.3 299.4L479.5 299.4M514.5 335.0L514.5 303.9M530.1 335.0L530.1 303.9M514.5 303.9L530.1 303.9M545.6 335.0L545.6 301.3M561.2 335.0L561.2 301.3M545.6 301.3L561.2 301.3M522.3 303.9L522.3 296.5M553.4 301.3L553.4 296.5M522.3 296.5L553.4 296.5M465.9 299.4L465.9 292.9M537.9 296.5L537.9 292.9M465.9 292.9L537.9 292.9M285.0 294.8L285.0 286.1M501.9 292.9L501.9 286.1M285.0 286.1L501.9 286.1M52.2 373.3L31.7 373.3M52.2 383.3L31.7 383.3M31.7 373.3L31.7 383.3M52.2 363.3L27.9 363.3M31.7 378.3L27.9 378.3M27.9 363.3L27.9 378.3M52.2 403.4L35.8 403.4M52.2 413.5L35.8 413.5M35.8 403.4L35.8 413.5M52.2 393.4L26.7 393.4M35.8 408.4L26.7 408.4M26.7 393.4L26.7 408.4M27.9 370.8L21.8 370.8M26.7 400.9L21.8 400.9M21.8 370.8L21.8 400.9M52.2 353.2L14.8 353.2M21.8 385.8L14.8 385.8M14.8 353.2L14.8 385.8M52.2 426.6L28.4 426.6M52.2 436.5L28.4 436.5M28.4 426.6L28.4 436.5M52.2 446.5L28.4 446.5M52.2 456.5L28.4 456.5M28.4 446.5L28.4 456.5M28.4 431.6L19.7 431.6M28.4 451.5L19.7 451.5M19.7 431.6L19.7 451.5M52.2 476.4L28.4 476.4M52.2 486.3L28.4 486.3M28.4 476.4L28.4 486.3M52.2 496.3L27.4 496.3M52.2 506.3L27.4 506.3M27.4 496.3L27.4 506.3M28.4 481.4L22.7 481.4M27.4 501.3L22.7 501.3M22.7 481.4L22.7 501.3M52.2 466.4L18.3 466.4M22.7 491.3L18.3 491.3M18.3 466.4L18.3 491.3M19.7 441.5L14.0 441.5M18.3 478.9L14.0 478.9M14.0 441.5L14.0 478.9M52.2 516.2L35.4 516.2M52.2 526.2L35.4 526.2M35.4 516.2L35.4 526.2M52.2 546.1L41.5 546.1M52.2 556.1L41.5 556.1M41.5 546.1L41.5 556.1M52.2 566.0L41.5 566.0M52.2 576.0L41.5 576.0M41.5 566.0L41.5 576.0M41.5 551.1L37.0 551.1M41.5 571.0L37.0 571.0M37.0 551.1L37.0 571.0M52.2 536.1L27.9 536.1M37.0 561.0L27.9 561.0M27.9 536.1L27.9 561.0M35.4 521.2L26.7 521.2M27.9 548.6L26.7 548.6M26.7 521.2L26.7 548.6M52.2 585.9L21.8 585.9M52.2 595.9L21.8 595.9M21.8 585.9L21.8 595.9M26.7 534.9L20.6 534.9M21.8 590.9L20.6 590.9M20.6 534.9L20.6 590.9M52.2 615.8L26.2 615.8M52.2 625.8L26.2 625.8M26.2 615.8L26.2 625.8M52.2 605.9L20.9 605.9M26.2 620.8L20.9 620.8M20.9 605.9L20.9 620.8M52.2 655.6L37.2 655.6M52.2 665.6L37.2 665.6M37.2 655.6L37.2 665.6M52.2 645.7L25.8 645.7M37.2 660.6L25.8 660.6M25.8 645.7L25.8 660.6M52.2 635.7L13.6 635.7M25.8 653.2L13.6 653.2M13.6 635.7L13.6 653.2M20.9 613.3L13.1 613.3M13.6 644.4L13.1 644.4M13.1 613.3L13.1 644.4M20.6 562.9L12.2 562.9M13.1 628.9L12.2 628.9M12.2 562.9L12.2 628.9M52.2 675.6L26.5 675.6M52.2 685.5L26.5 685.5M26.5 675.6L26.5 685.5M52.2 705.4L34.9 705.4M52.2 715.4L34.9 715.4M34.9 705.4L34.9 715.4M52.2 695.5L31.4 695.5M34.9 710.4L31.4 710.4M31.4 695.5L31.4 710.4M52.2 725.4L31.4 725.4M52.2 735.3L31.4 735.3M31.4 725.4L31.4 735.3M31.4 703.0L25.8 703.0M31.4 730.3L25.8 730.3M25.8 703.0L25.8 730.3M26.5 680.5L16.9 680.5M25.8 716.6L16.9 716.6M16.9 680.5L16.9 716.6M52.2 755.2L28.8 755.2M52.2 765.2L28.8 765.2M28.8 755.2L28.8 765.2M52.2 775.2L22.7 775.2M52.2 785.1L22.7 785.1M22.7 775.2L22.7 785.1M28.8 760.2L18.8 760.2M22.7 780.1L18.8 780.1M18.8 760.2L18.8 780.1M52.2 745.3L15.7 745.3M18.8 770.2L15.7 770.2M15.7 745.3L15.7 770.2M16.9 698.6L12.2 698.6M15.7 757.7L12.2 757.7M12.2 698.6L12.2 757.7M12.2 595.9L11.9 595.9M12.2 728.2L11.9 728.2M11.9 595.9L11.9 728.2M14.0 460.2L9.4 460.2M11.9 662.0L9.4 662.0M9.4 460.2L9.4 662.0M14.8 369.5L2.6 369.5M9.4 561.1L2.6 561.1M2.6 369.5L2.6 561.1" fill="none" stroke="#1a1a1a" stroke-width="0.9" stroke-linecap="square"/>
<rect x="0.6" y="408.6" width="639.6" height="10.3" fill="none" stroke="#e8202a" stroke-width="1.1"/>
<g font-family="'Liberation Sans', sans-serif" font-size="8.5" fill="#000" stroke="#000" stroke-width="0.12" transform="translate(571.8 0) scale(0.905 1)">
<text x="0" y="354.70">Hsa-miR-676-3p</text>
<text x="0" y="365.18">Hsa-miR-6734-5p</text>
<text x="0" y="375.66">Hsa-miR-3611</text>
<text x="0" y="386.14">Hsa-miR-7847-3p</text>
<text x="0" y="396.62">Hsa-miR-545-5p</text>
<text x="0" y="407.10">Hsa-miR-144-3</text>
<text x="0" y="417.58">Hsa-miR-190a-5p</text>
<text x="0" y="429.90">Hsa-miR-26b-5p</text>
<text x="0" y="440.43">Hsa-miR-3200-5p</text>
<text x="0" y="450.95">Hsa-miR-4787-3p</text>
<text x="0" y="461.48">Hsa-miR-548aw</text>
<text x="0" y="472.00">Hsa-miR-150-5p</text>
<text x="0" y="482.53">Hsa-miR-5090</text>
<text x="0" y="493.06">Hsa-miR-615-3p</text>
<text x="0" y="503.58">Hsa-miR-1234-3p</text>
<text x="0" y="514.11">Hsa-miR-6729-3p</text>
<text x="0" y="524.63">Hsa-miR-6878-3p</text>
<text x="0" y="535.16">Hsa-miR-1253</text>
<text x="0" y="545.69">Hsa-miR-8069</text>
<text x="0" y="556.21">Hsa-miR-1251-3p</text>
<text x="0" y="566.74">Hsa-miR-4259</text>
<text x="0" y="577.26">Hsa-miR-365b-5p</text>
<text x="0" y="587.79">Hsa-miR-4769-5p</text>
<text x="0" y="598.32">Hsa-miR-503-3p</text>
<text x="0" y="608.84">Hsa-miR-2115-5</text>
<text x="0" y="619.37">Hsa-miR-3194-3p</text>
<text x="0" y="629.89">Hsa-miR-548f-5p</text>
<text x="0" y="640.42">Hsa-miR-4736</text>
<text x="0" y="650.95">Hsa-miR-34c-3p</text>
<text x="0" y="661.47">Hsa-miR-34c-5p</text>
<text x="0" y="672.00">Hsa-miR-133b</text>
<text x="0" y="682.52">Has-miR-6748-5p</text>
<text x="0" y="693.05">Hsa-miR-6777-5p</text>
<text x="0" y="703.58">Hsa-miR-875-5p</text>
<text x="0" y="714.10">Hsa-miR-10401-5p</text>
<text x="0" y="724.63">Hsa-miR-92a-3p</text>
<text x="0" y="735.15">Hsa-miR-6865-5p</text>
<text x="0" y="745.68">Hsa-miR-3146</text>
<text x="0" y="756.21">Hsa-miR-301b-5p</text>
<text x="0" y="766.73">Hsa-miR-6883-3p</text>
<text x="0" y="777.26">Hsa-miR-4632-3p</text>
<text x="0" y="787.78">Hsa-miR-7111-5p</text>
</g>
<g font-family="'Liberation Sans', sans-serif" fill="#111">
<text x="609" y="274.7" font-size="13.3">Group</text>
<g stroke="#9a9a9a" stroke-width="0.6">
<rect x="600.8" y="283.50" width="15.2" height="14.83" fill="#2e6aa8"/>
<rect x="600.8" y="298.33" width="15.2" height="14.83" fill="#4a9a7a"/>
<rect x="600.8" y="313.16" width="15.2" height="14.83" fill="#fff799"/>
</g>
<text transform="translate(619.2 294.80) scale(0.94 1)" font-size="10.4">NDNRF</text>
<text transform="translate(619.2 309.40) scale(0.94 1)" font-size="10.4">T2DNRF</text>
<text transform="translate(619.2 324.00) scale(0.94 1)" font-size="10.4">T2DKD</text>
<text x="638.3" y="344.7" font-size="12.1">Z Score</text>
<rect x="651.2" y="353.80" width="10.1" height="14.5" fill="#fdfbc4"/>
<rect x="651.2" y="368.10" width="10.1" height="14.5" fill="#f8ca94"/>
<rect x="651.2" y="382.40" width="10.1" height="14.5" fill="#f19970"/>
<rect x="651.2" y="396.70" width="10.1" height="14.5" fill="#e46a67"/>
<rect x="651.2" y="411.00" width="10.1" height="14.5" fill="#c15072"/>
<rect x="651.2" y="425.30" width="10.1" height="14.5" fill="#92407f"/>
<rect x="651.2" y="439.60" width="10.1" height="14.5" fill="#6a3282"/>
<rect x="651.2" y="453.90" width="10.1" height="14.5" fill="#402478"/>
<rect x="651.2" y="468.20" width="10.1" height="14.5" fill="#18143e"/>
<rect x="651.2" y="482.50" width="10.1" height="14.5" fill="#000003"/>
<text transform="translate(664.9 371.0) scale(0.93 1)" font-size="10.2">4</text>
<text transform="translate(664.9 407.0) scale(0.93 1)" font-size="10.2">2</text>
<text transform="translate(664.9 442.9) scale(0.93 1)" font-size="10.2">0</text>
<text transform="translate(664.7 478.8) scale(0.93 1)" font-size="10.2">-2</text>
</g>
<g font-family="'Liberation Sans', sans-serif" fill="#111">
<text transform="translate(2.9 12.9) scale(0.9 1)" font-size="18.4" stroke="#111" stroke-width="0.3">A</text>
<text transform="translate(2.5 262) scale(0.88 1)" font-size="18.4" stroke="#111" stroke-width="0.3">B</text>
<text x="557.3" y="196.8" font-size="16.2">Small RNA-Seq</text>
</g>
</svg>
<div class="para">
<div>Type II diabetic patients</div>
<div>with normal kidney function</div>
<div>(T2DNRF; n=13) and with</div>
<div>CKD (T2DKD, n=9) and</div>
<div class="last">controls (NDNRF, n=11).</div>
</div>
</body></html>
